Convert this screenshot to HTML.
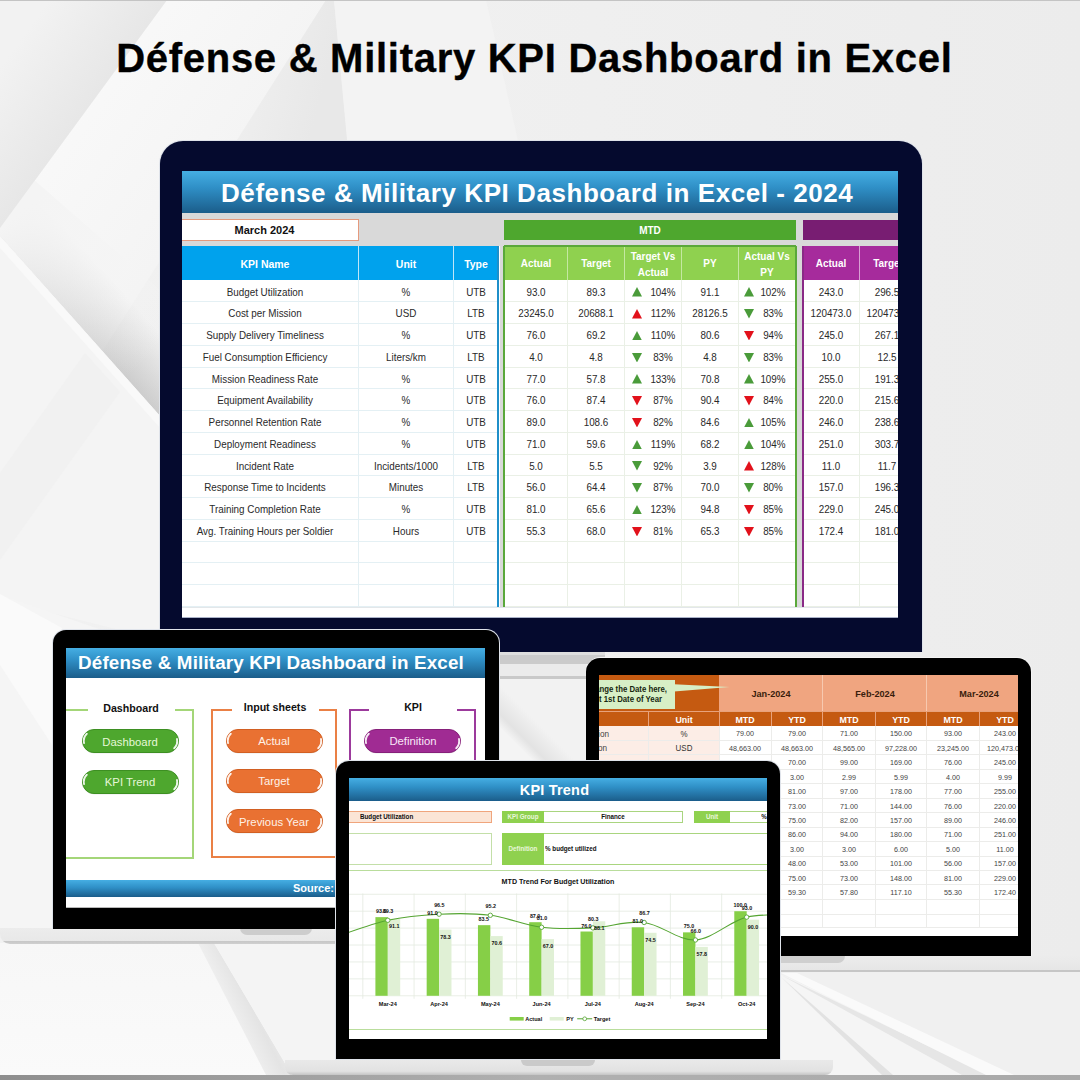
<!DOCTYPE html>
<html lang="en"><head><meta charset="utf-8">
<title>Défense &amp; Military KPI Dashboard in Excel</title>
<style>
html,body{margin:0;padding:0;}
body{width:1080px;height:1080px;position:relative;overflow:hidden;background:#eeeeee;font-family:"Liberation Sans",sans-serif;}
div{position:absolute;box-sizing:border-box;}
.t{white-space:nowrap;overflow:visible;}
svg{position:absolute;left:0;top:0;}
.scr{overflow:hidden;background:#fff;}
</style></head><body>

<svg width="1080" height="1080" viewBox="0 0 1080 1080">
<defs>
<linearGradient id="bg0" x1="0" y1="0" x2="1" y2="0"><stop offset="0" stop-color="#f1f1f1"/><stop offset="0.4" stop-color="#f0f0f0"/><stop offset="1" stop-color="#ececec"/></linearGradient>
<linearGradient id="g1" gradientUnits="userSpaceOnUse" x1="20" y1="40" x2="110" y2="105"><stop offset="0" stop-color="#f2f2f2"/><stop offset="1" stop-color="#e5e5e5"/></linearGradient>
<linearGradient id="g2" gradientUnits="userSpaceOnUse" x1="60" y1="100" x2="230" y2="220"><stop offset="0" stop-color="#f9f9f9"/><stop offset="1" stop-color="#f3f3f3"/></linearGradient>
<linearGradient id="g3" gradientUnits="userSpaceOnUse" x1="80" y1="326" x2="121" y2="289.5"><stop offset="0" stop-color="#000" stop-opacity="0.15"/><stop offset="0.5" stop-color="#000" stop-opacity="0.075"/><stop offset="1" stop-color="#000" stop-opacity="0"/></linearGradient>
<linearGradient id="g3b" gradientUnits="userSpaceOnUse" x1="0" y1="230" x2="130" y2="375"><stop offset="0" stop-color="#f4f4f4" stop-opacity="1"/><stop offset="1" stop-color="#f4f4f4" stop-opacity="0"/></linearGradient>
<linearGradient id="g4" x1="0" y1="0" x2="0" y2="1"><stop offset="0" stop-color="#f7f7f7"/><stop offset="1" stop-color="#fafafa"/></linearGradient>
<linearGradient id="g6" gradientUnits="userSpaceOnUse" x1="330" y1="60" x2="250" y2="40"><stop offset="0" stop-color="#e8e8e8"/><stop offset="1" stop-color="#efefef"/></linearGradient>
<linearGradient id="g7" gradientUnits="userSpaceOnUse" x1="210" y1="1000" x2="260" y2="975"><stop offset="0" stop-color="#f6f6f6"/><stop offset="0.6" stop-color="#e4e4e4"/><stop offset="1" stop-color="#f1f1f1"/></linearGradient>
<linearGradient id="g8" gradientUnits="userSpaceOnUse" x1="900" y1="1020" x2="890" y2="1042"><stop offset="0" stop-color="#f8f8f8"/><stop offset="0.6" stop-color="#f4f4f4"/><stop offset="1" stop-color="#dcdcdc"/></linearGradient>
</defs>
<rect width="1080" height="1080" fill="url(#bg0)"/>
<!-- light diagonal band -->
<polygon points="167,0 326,0 0,512 0,228" fill="url(#g2)"/>
<!-- grey triangle right of the band -->
<polygon points="326,0 334,0 348,145 234,145" fill="url(#g6)"/>
<!-- lighter triangle -->
<polygon points="334,0 486,0 520,150 348,150" fill="#f3f3f3"/>
<!-- grey ribbon crossing left -->
<polygon points="0,150 160,290 160,416 0,236" fill="url(#g3)"/>
<polygon points="0,150 160,290 160,416 0,236" fill="url(#g3b)"/>
<!-- top-left grey wedge -->
<polygon points="0,0 167,0 0,228" fill="url(#g1)"/>
<!-- area under ribbon -->
<polygon points="0,236 160,416 160,640 0,600" fill="#f4f4f4"/>
<polygon points="0,473 85,353 120,392 0,560" fill="#f1f1f1"/>
<polygon points="0,236 160,416 160,428 0,248" fill="#f9f9f9"/>
<polygon points="0,595 160,650 160,935 0,935" fill="#f5f5f5"/>
<polygon points="0,594 62,628 52,745 0,665" fill="#fafafa"/>
<!-- bottom region -->
<polygon points="0,943 780,943 780,1075 0,1075" fill="url(#g4)"/>
<polygon points="198,943 214,943 292,1075 266,1075" fill="url(#g7)"/>
<polygon points="214,943 340,943 340,1075 292,1075" fill="#f4f4f4"/>
<!-- bottom right rays -->
<polygon points="780,972 1080,972 1080,1075 780,1075" fill="#f0f0f0"/>
<polygon points="780,974 1000,1075 780,1075" fill="#f5f5f5"/>
<polygon points="781,975 988,1075 962,1075" fill="#e6e6e6"/>
<polygon points="781,973 797,973 1014,1075 986,1075" fill="#fafafa"/>
<polygon points="781,977 893,1075 882,1075" fill="#e2e2e2"/>
</svg>

<div style="left:0.00px;top:0.00px;width:1080.00px;height:1.20px;background:#c4c4c4;"></div>
<div class="t" id="title" style="left:34.40px;top:34.00px;width:1000.00px;height:48.00px;line-height:48.00px;font-size:40px;color:#000;text-align:center;font-weight:700;letter-spacing:0.72px;-webkit-text-stroke:0.35px #000;">Défense &amp; Military KPI Dashboard in Excel</div>
<div style="left:158.50px;top:140.00px;width:764.00px;height:512.00px;background:#dfe3ea;border-radius:24px 24px 0 0;"></div>
<div style="left:159.50px;top:141.00px;width:762.00px;height:511.00px;background:#050a2e;border-radius:23px 23px 0 0;"></div>
<div style="left:440.00px;top:651.50px;width:165.00px;height:4.00px;background:#dedede;"></div>
<div style="left:440.00px;top:655.00px;width:165.00px;height:8.60px;background:#cbcbcb;"></div>
<div style="left:440.00px;top:663.60px;width:146.00px;height:12.00px;background:#ebebeb;"></div>
<div style="left:440.00px;top:675.60px;width:146.00px;height:3.20px;background:#c9c9c9;"></div>
<div style="left:499.00px;top:678.80px;width:88.00px;height:82.00px;background:linear-gradient(225deg,#f2f2f2 0%,#f2f2f2 55%,#e3e3e3 72%,#f4f4f4 80%,#f4f4f4 100%);"></div>
<div class="scr" style="left:182.00px;top:170.50px;width:716.00px;height:447.50px;"><div style="left:0.00px;top:0.00px;width:716.00px;height:42.00px;background:linear-gradient(#45aee3 0%,#2f8fc6 40%,#1b5d8a 100%);"></div><div class="t" id="mh" style="left:-4.80px;top:7.90px;width:720.00px;height:31.20px;line-height:31.20px;font-size:26px;color:#fff;text-align:center;font-weight:700;letter-spacing:0.56px;">Défense &amp; Military KPI Dashboard in Excel - 2024</div><div style="left:0.00px;top:42.00px;width:716.00px;height:33.50px;background:#d9d9d9;"></div><div style="left:0.00px;top:48.00px;width:176.50px;height:22.50px;background:#fff;border:1px solid #e59a7d;border-left:none;"></div><div class="t" style="left:-17.50px;top:53.40px;width:200.00px;height:13.20px;line-height:13.20px;font-size:11px;color:#111;text-align:center;font-weight:700;">March 2024</div><div style="left:322.00px;top:49.00px;width:292.00px;height:20.50px;background:#4ea72e;"></div><div class="t" style="left:368.00px;top:53.00px;width:200.00px;height:12.60px;line-height:12.60px;font-size:10.5px;color:#fff;text-align:center;font-weight:700;transform:scaleX(0.95);transform-origin:50% 50%;">MTD</div><div style="left:620.50px;top:49.00px;width:120.00px;height:20.50px;background:#781d72;"></div><div style="left:0.00px;top:75.80px;width:316.00px;height:33.70px;background:#00a2ed;"></div><div class="t" style="left:-17.50px;top:87.48px;width:200.00px;height:12.84px;line-height:12.84px;font-size:10.7px;color:#fff;text-align:center;font-weight:700;transform:scaleX(0.98);transform-origin:50% 50%;">KPI Name</div><div class="t" style="left:124.00px;top:87.48px;width:200.00px;height:12.84px;line-height:12.84px;font-size:10.7px;color:#fff;text-align:center;font-weight:700;transform:scaleX(0.98);transform-origin:50% 50%;">Unit</div><div class="t" style="left:193.50px;top:87.48px;width:200.00px;height:12.84px;line-height:12.84px;font-size:10.7px;color:#fff;text-align:center;font-weight:700;transform:scaleX(0.98);transform-origin:50% 50%;">Type</div><div style="left:176.00px;top:75.80px;width:1.00px;height:33.70px;background:#bfe6f9;"></div><div style="left:270.80px;top:75.80px;width:1.00px;height:33.70px;background:#bfe6f9;"></div><div style="left:322.00px;top:75.80px;width:292.00px;height:33.70px;background:#8fd14f;"></div><div class="t" style="left:253.75px;top:86.70px;width:200.00px;height:12.60px;line-height:12.60px;font-size:10.5px;color:#fff;text-align:center;font-weight:700;transform:scaleX(0.95);transform-origin:50% 50%;">Actual</div><div class="t" style="left:314.00px;top:86.70px;width:200.00px;height:12.60px;line-height:12.60px;font-size:10.5px;color:#fff;text-align:center;font-weight:700;transform:scaleX(0.95);transform-origin:50% 50%;">Target</div><div class="t" style="left:371.10px;top:79.20px;width:200.00px;height:12.60px;line-height:12.60px;font-size:10.5px;color:#fff;text-align:center;font-weight:700;transform:scaleX(0.95);transform-origin:50% 50%;">Target Vs</div><div class="t" style="left:371.10px;top:95.20px;width:200.00px;height:12.60px;line-height:12.60px;font-size:10.5px;color:#fff;text-align:center;font-weight:700;transform:scaleX(0.95);transform-origin:50% 50%;">Actual</div><div class="t" style="left:428.20px;top:86.70px;width:200.00px;height:12.60px;line-height:12.60px;font-size:10.5px;color:#fff;text-align:center;font-weight:700;transform:scaleX(0.95);transform-origin:50% 50%;">PY</div><div class="t" style="left:485.35px;top:79.20px;width:200.00px;height:12.60px;line-height:12.60px;font-size:10.5px;color:#fff;text-align:center;font-weight:700;transform:scaleX(0.95);transform-origin:50% 50%;">Actual Vs</div><div class="t" style="left:485.35px;top:95.20px;width:200.00px;height:12.60px;line-height:12.60px;font-size:10.5px;color:#fff;text-align:center;font-weight:700;transform:scaleX(0.95);transform-origin:50% 50%;">PY</div><div style="left:385.00px;top:75.80px;width:1.00px;height:33.70px;background:#c5e8a2;"></div><div style="left:442.00px;top:75.80px;width:1.00px;height:33.70px;background:#c5e8a2;"></div><div style="left:499.20px;top:75.80px;width:1.00px;height:33.70px;background:#c5e8a2;"></div><div style="left:556.20px;top:75.80px;width:1.00px;height:33.70px;background:#c5e8a2;"></div><div style="left:620.50px;top:75.80px;width:120.00px;height:33.70px;background:#a62b9c;"></div><div class="t" style="left:548.50px;top:86.70px;width:200.00px;height:12.60px;line-height:12.60px;font-size:10.5px;color:#fff;text-align:center;font-weight:700;transform:scaleX(0.95);transform-origin:50% 50%;">Actual</div><div class="t" style="left:605.50px;top:86.70px;width:200.00px;height:12.60px;line-height:12.60px;font-size:10.5px;color:#fff;text-align:center;font-weight:700;transform:scaleX(0.95);transform-origin:50% 50%;">Target</div><div style="left:676.50px;top:75.80px;width:1.00px;height:33.70px;background:#d9a0d4;"></div><div style="left:0.00px;top:130.75px;width:316.00px;height:1.00px;background:#e4f0f4;"></div><div style="left:322.00px;top:130.75px;width:292.00px;height:1.00px;background:#eaf0e6;"></div><div style="left:620.50px;top:130.75px;width:120.00px;height:1.00px;background:#eaf0e6;"></div><div style="left:0.00px;top:152.50px;width:316.00px;height:1.00px;background:#e4f0f4;"></div><div style="left:322.00px;top:152.50px;width:292.00px;height:1.00px;background:#eaf0e6;"></div><div style="left:620.50px;top:152.50px;width:120.00px;height:1.00px;background:#eaf0e6;"></div><div style="left:0.00px;top:174.25px;width:316.00px;height:1.00px;background:#e4f0f4;"></div><div style="left:322.00px;top:174.25px;width:292.00px;height:1.00px;background:#eaf0e6;"></div><div style="left:620.50px;top:174.25px;width:120.00px;height:1.00px;background:#eaf0e6;"></div><div style="left:0.00px;top:196.00px;width:316.00px;height:1.00px;background:#e4f0f4;"></div><div style="left:322.00px;top:196.00px;width:292.00px;height:1.00px;background:#eaf0e6;"></div><div style="left:620.50px;top:196.00px;width:120.00px;height:1.00px;background:#eaf0e6;"></div><div style="left:0.00px;top:217.75px;width:316.00px;height:1.00px;background:#e4f0f4;"></div><div style="left:322.00px;top:217.75px;width:292.00px;height:1.00px;background:#eaf0e6;"></div><div style="left:620.50px;top:217.75px;width:120.00px;height:1.00px;background:#eaf0e6;"></div><div style="left:0.00px;top:239.50px;width:316.00px;height:1.00px;background:#e4f0f4;"></div><div style="left:322.00px;top:239.50px;width:292.00px;height:1.00px;background:#eaf0e6;"></div><div style="left:620.50px;top:239.50px;width:120.00px;height:1.00px;background:#eaf0e6;"></div><div style="left:0.00px;top:261.25px;width:316.00px;height:1.00px;background:#e4f0f4;"></div><div style="left:322.00px;top:261.25px;width:292.00px;height:1.00px;background:#eaf0e6;"></div><div style="left:620.50px;top:261.25px;width:120.00px;height:1.00px;background:#eaf0e6;"></div><div style="left:0.00px;top:283.00px;width:316.00px;height:1.00px;background:#e4f0f4;"></div><div style="left:322.00px;top:283.00px;width:292.00px;height:1.00px;background:#eaf0e6;"></div><div style="left:620.50px;top:283.00px;width:120.00px;height:1.00px;background:#eaf0e6;"></div><div style="left:0.00px;top:304.75px;width:316.00px;height:1.00px;background:#e4f0f4;"></div><div style="left:322.00px;top:304.75px;width:292.00px;height:1.00px;background:#eaf0e6;"></div><div style="left:620.50px;top:304.75px;width:120.00px;height:1.00px;background:#eaf0e6;"></div><div style="left:0.00px;top:326.50px;width:316.00px;height:1.00px;background:#e4f0f4;"></div><div style="left:322.00px;top:326.50px;width:292.00px;height:1.00px;background:#eaf0e6;"></div><div style="left:620.50px;top:326.50px;width:120.00px;height:1.00px;background:#eaf0e6;"></div><div style="left:0.00px;top:348.25px;width:316.00px;height:1.00px;background:#e4f0f4;"></div><div style="left:322.00px;top:348.25px;width:292.00px;height:1.00px;background:#eaf0e6;"></div><div style="left:620.50px;top:348.25px;width:120.00px;height:1.00px;background:#eaf0e6;"></div><div style="left:0.00px;top:370.00px;width:316.00px;height:1.00px;background:#e4f0f4;"></div><div style="left:322.00px;top:370.00px;width:292.00px;height:1.00px;background:#eaf0e6;"></div><div style="left:620.50px;top:370.00px;width:120.00px;height:1.00px;background:#eaf0e6;"></div><div style="left:0.00px;top:391.75px;width:316.00px;height:1.00px;background:#e4f0f4;"></div><div style="left:322.00px;top:391.75px;width:292.00px;height:1.00px;background:#eaf0e6;"></div><div style="left:620.50px;top:391.75px;width:120.00px;height:1.00px;background:#eaf0e6;"></div><div style="left:0.00px;top:413.50px;width:316.00px;height:1.00px;background:#e4f0f4;"></div><div style="left:322.00px;top:413.50px;width:292.00px;height:1.00px;background:#eaf0e6;"></div><div style="left:620.50px;top:413.50px;width:120.00px;height:1.00px;background:#eaf0e6;"></div><div style="left:0.00px;top:435.25px;width:316.00px;height:1.00px;background:#e4f0f4;"></div><div style="left:322.00px;top:435.25px;width:292.00px;height:1.00px;background:#eaf0e6;"></div><div style="left:620.50px;top:435.25px;width:120.00px;height:1.00px;background:#eaf0e6;"></div><div style="left:176.00px;top:109.50px;width:1.00px;height:327.00px;background:#e4f0f4;"></div><div style="left:270.80px;top:109.50px;width:1.00px;height:327.00px;background:#e4f0f4;"></div><div style="left:385.00px;top:109.50px;width:1.00px;height:327.00px;background:#eaf0e6;"></div><div style="left:442.00px;top:109.50px;width:1.00px;height:327.00px;background:#eaf0e6;"></div><div style="left:499.20px;top:109.50px;width:1.00px;height:327.00px;background:#eaf0e6;"></div><div style="left:556.20px;top:109.50px;width:1.00px;height:327.00px;background:#eaf0e6;"></div><div style="left:676.50px;top:109.50px;width:1.00px;height:327.00px;background:#eaf0e6;"></div><div style="left:317.50px;top:75.80px;width:4.00px;height:360.70px;background:#d9d9d9;"></div><div style="left:615.00px;top:75.80px;width:5.50px;height:360.70px;background:#d9d9d9;"></div><div style="left:315.20px;top:75.80px;width:2.20px;height:360.70px;background:#1f8fc9;"></div><div style="left:320.80px;top:75.80px;width:2.20px;height:360.70px;background:#5aa83a;"></div><div style="left:612.80px;top:75.80px;width:2.20px;height:360.70px;background:#5aa83a;"></div><div style="left:619.60px;top:75.80px;width:2.00px;height:360.70px;background:#8a2a86;"></div><div style="left:322.00px;top:74.80px;width:292.00px;height:1.50px;background:#5aa83a;"></div><div style="left:0.00px;top:436.50px;width:716.00px;height:1.00px;background:#e3e7ea;"></div><div style="left:0.00px;top:446.00px;width:716.00px;height:1.50px;background:#aab2c8;"></div><div class="t" style="left:-17.50px;top:115.21px;width:200.00px;height:12.72px;line-height:12.72px;font-size:10.6px;color:#2a2a2a;text-align:center;transform:scaleX(0.93);transform-origin:50% 50%;">Budget Utilization</div><div class="t" style="left:124.00px;top:115.21px;width:200.00px;height:12.72px;line-height:12.72px;font-size:10.6px;color:#2a2a2a;text-align:center;transform:scaleX(0.93);transform-origin:50% 50%;">%</div><div class="t" style="left:193.50px;top:115.21px;width:200.00px;height:12.72px;line-height:12.72px;font-size:10.6px;color:#2a2a2a;text-align:center;transform:scaleX(0.93);transform-origin:50% 50%;">UTB</div><div class="t" style="left:253.75px;top:115.21px;width:200.00px;height:12.72px;line-height:12.72px;font-size:10.6px;color:#2a2a2a;text-align:center;transform:scaleX(0.93);transform-origin:50% 50%;">93.0</div><div class="t" style="left:314.00px;top:115.21px;width:200.00px;height:12.72px;line-height:12.72px;font-size:10.6px;color:#2a2a2a;text-align:center;transform:scaleX(0.93);transform-origin:50% 50%;">89.3</div><svg style="left:450.00px;top:116.82px" width="10" height="9.5" viewBox="0 0 10 9.5"><polygon points="0,9.5 5,0 10,9.5" fill="#4a9b3a"/></svg><div class="t" style="left:381.00px;top:115.21px;width:200.00px;height:12.72px;line-height:12.72px;font-size:10.6px;color:#2a2a2a;text-align:center;transform:scaleX(0.93);transform-origin:50% 50%;">104%</div><div class="t" style="left:428.20px;top:115.21px;width:200.00px;height:12.72px;line-height:12.72px;font-size:10.6px;color:#2a2a2a;text-align:center;transform:scaleX(0.93);transform-origin:50% 50%;">91.1</div><svg style="left:562.00px;top:116.82px" width="10" height="9.5" viewBox="0 0 10 9.5"><polygon points="0,9.5 5,0 10,9.5" fill="#4a9b3a"/></svg><div class="t" style="left:491.00px;top:115.21px;width:200.00px;height:12.72px;line-height:12.72px;font-size:10.6px;color:#2a2a2a;text-align:center;transform:scaleX(0.93);transform-origin:50% 50%;">102%</div><div class="t" style="left:548.50px;top:115.21px;width:200.00px;height:12.72px;line-height:12.72px;font-size:10.6px;color:#2a2a2a;text-align:center;transform:scaleX(0.93);transform-origin:50% 50%;">243.0</div><div class="t" style="left:605.00px;top:115.21px;width:200.00px;height:12.72px;line-height:12.72px;font-size:10.6px;color:#2a2a2a;text-align:center;transform:scaleX(0.93);transform-origin:50% 50%;">296.5</div><div class="t" style="left:-17.50px;top:136.96px;width:200.00px;height:12.72px;line-height:12.72px;font-size:10.6px;color:#2a2a2a;text-align:center;transform:scaleX(0.93);transform-origin:50% 50%;">Cost per Mission</div><div class="t" style="left:124.00px;top:136.96px;width:200.00px;height:12.72px;line-height:12.72px;font-size:10.6px;color:#2a2a2a;text-align:center;transform:scaleX(0.93);transform-origin:50% 50%;">USD</div><div class="t" style="left:193.50px;top:136.96px;width:200.00px;height:12.72px;line-height:12.72px;font-size:10.6px;color:#2a2a2a;text-align:center;transform:scaleX(0.93);transform-origin:50% 50%;">LTB</div><div class="t" style="left:253.75px;top:136.96px;width:200.00px;height:12.72px;line-height:12.72px;font-size:10.6px;color:#2a2a2a;text-align:center;transform:scaleX(0.93);transform-origin:50% 50%;">23245.0</div><div class="t" style="left:314.00px;top:136.96px;width:200.00px;height:12.72px;line-height:12.72px;font-size:10.6px;color:#2a2a2a;text-align:center;transform:scaleX(0.93);transform-origin:50% 50%;">20688.1</div><svg style="left:450.00px;top:138.57px" width="10" height="9.5" viewBox="0 0 10 9.5"><polygon points="0,9.5 5,0 10,9.5" fill="#e2111b"/></svg><div class="t" style="left:381.00px;top:136.96px;width:200.00px;height:12.72px;line-height:12.72px;font-size:10.6px;color:#2a2a2a;text-align:center;transform:scaleX(0.93);transform-origin:50% 50%;">112%</div><div class="t" style="left:428.20px;top:136.96px;width:200.00px;height:12.72px;line-height:12.72px;font-size:10.6px;color:#2a2a2a;text-align:center;transform:scaleX(0.93);transform-origin:50% 50%;">28126.5</div><svg style="left:562.00px;top:138.57px" width="10" height="9.5" viewBox="0 0 10 9.5"><polygon points="0,0 10,0 5,9.5" fill="#4a9b3a"/></svg><div class="t" style="left:491.00px;top:136.96px;width:200.00px;height:12.72px;line-height:12.72px;font-size:10.6px;color:#2a2a2a;text-align:center;transform:scaleX(0.93);transform-origin:50% 50%;">83%</div><div class="t" style="left:548.50px;top:136.96px;width:200.00px;height:12.72px;line-height:12.72px;font-size:10.6px;color:#2a2a2a;text-align:center;transform:scaleX(0.93);transform-origin:50% 50%;">120473.0</div><div class="t" style="left:605.00px;top:136.96px;width:200.00px;height:12.72px;line-height:12.72px;font-size:10.6px;color:#2a2a2a;text-align:center;transform:scaleX(0.93);transform-origin:50% 50%;">120473.0</div><div class="t" style="left:-17.50px;top:158.71px;width:200.00px;height:12.72px;line-height:12.72px;font-size:10.6px;color:#2a2a2a;text-align:center;transform:scaleX(0.93);transform-origin:50% 50%;">Supply Delivery Timeliness</div><div class="t" style="left:124.00px;top:158.71px;width:200.00px;height:12.72px;line-height:12.72px;font-size:10.6px;color:#2a2a2a;text-align:center;transform:scaleX(0.93);transform-origin:50% 50%;">%</div><div class="t" style="left:193.50px;top:158.71px;width:200.00px;height:12.72px;line-height:12.72px;font-size:10.6px;color:#2a2a2a;text-align:center;transform:scaleX(0.93);transform-origin:50% 50%;">UTB</div><div class="t" style="left:253.75px;top:158.71px;width:200.00px;height:12.72px;line-height:12.72px;font-size:10.6px;color:#2a2a2a;text-align:center;transform:scaleX(0.93);transform-origin:50% 50%;">76.0</div><div class="t" style="left:314.00px;top:158.71px;width:200.00px;height:12.72px;line-height:12.72px;font-size:10.6px;color:#2a2a2a;text-align:center;transform:scaleX(0.93);transform-origin:50% 50%;">69.2</div><svg style="left:450.00px;top:160.32px" width="10" height="9.5" viewBox="0 0 10 9.5"><polygon points="0,9.5 5,0 10,9.5" fill="#4a9b3a"/></svg><div class="t" style="left:381.00px;top:158.71px;width:200.00px;height:12.72px;line-height:12.72px;font-size:10.6px;color:#2a2a2a;text-align:center;transform:scaleX(0.93);transform-origin:50% 50%;">110%</div><div class="t" style="left:428.20px;top:158.71px;width:200.00px;height:12.72px;line-height:12.72px;font-size:10.6px;color:#2a2a2a;text-align:center;transform:scaleX(0.93);transform-origin:50% 50%;">80.6</div><svg style="left:562.00px;top:160.32px" width="10" height="9.5" viewBox="0 0 10 9.5"><polygon points="0,0 10,0 5,9.5" fill="#e2111b"/></svg><div class="t" style="left:491.00px;top:158.71px;width:200.00px;height:12.72px;line-height:12.72px;font-size:10.6px;color:#2a2a2a;text-align:center;transform:scaleX(0.93);transform-origin:50% 50%;">94%</div><div class="t" style="left:548.50px;top:158.71px;width:200.00px;height:12.72px;line-height:12.72px;font-size:10.6px;color:#2a2a2a;text-align:center;transform:scaleX(0.93);transform-origin:50% 50%;">245.0</div><div class="t" style="left:605.00px;top:158.71px;width:200.00px;height:12.72px;line-height:12.72px;font-size:10.6px;color:#2a2a2a;text-align:center;transform:scaleX(0.93);transform-origin:50% 50%;">267.1</div><div class="t" style="left:-17.50px;top:180.46px;width:200.00px;height:12.72px;line-height:12.72px;font-size:10.6px;color:#2a2a2a;text-align:center;transform:scaleX(0.93);transform-origin:50% 50%;">Fuel Consumption Efficiency</div><div class="t" style="left:124.00px;top:180.46px;width:200.00px;height:12.72px;line-height:12.72px;font-size:10.6px;color:#2a2a2a;text-align:center;transform:scaleX(0.93);transform-origin:50% 50%;">Liters/km</div><div class="t" style="left:193.50px;top:180.46px;width:200.00px;height:12.72px;line-height:12.72px;font-size:10.6px;color:#2a2a2a;text-align:center;transform:scaleX(0.93);transform-origin:50% 50%;">LTB</div><div class="t" style="left:253.75px;top:180.46px;width:200.00px;height:12.72px;line-height:12.72px;font-size:10.6px;color:#2a2a2a;text-align:center;transform:scaleX(0.93);transform-origin:50% 50%;">4.0</div><div class="t" style="left:314.00px;top:180.46px;width:200.00px;height:12.72px;line-height:12.72px;font-size:10.6px;color:#2a2a2a;text-align:center;transform:scaleX(0.93);transform-origin:50% 50%;">4.8</div><svg style="left:450.00px;top:182.07px" width="10" height="9.5" viewBox="0 0 10 9.5"><polygon points="0,0 10,0 5,9.5" fill="#4a9b3a"/></svg><div class="t" style="left:381.00px;top:180.46px;width:200.00px;height:12.72px;line-height:12.72px;font-size:10.6px;color:#2a2a2a;text-align:center;transform:scaleX(0.93);transform-origin:50% 50%;">83%</div><div class="t" style="left:428.20px;top:180.46px;width:200.00px;height:12.72px;line-height:12.72px;font-size:10.6px;color:#2a2a2a;text-align:center;transform:scaleX(0.93);transform-origin:50% 50%;">4.8</div><svg style="left:562.00px;top:182.07px" width="10" height="9.5" viewBox="0 0 10 9.5"><polygon points="0,0 10,0 5,9.5" fill="#4a9b3a"/></svg><div class="t" style="left:491.00px;top:180.46px;width:200.00px;height:12.72px;line-height:12.72px;font-size:10.6px;color:#2a2a2a;text-align:center;transform:scaleX(0.93);transform-origin:50% 50%;">83%</div><div class="t" style="left:548.50px;top:180.46px;width:200.00px;height:12.72px;line-height:12.72px;font-size:10.6px;color:#2a2a2a;text-align:center;transform:scaleX(0.93);transform-origin:50% 50%;">10.0</div><div class="t" style="left:605.00px;top:180.46px;width:200.00px;height:12.72px;line-height:12.72px;font-size:10.6px;color:#2a2a2a;text-align:center;transform:scaleX(0.93);transform-origin:50% 50%;">12.5</div><div class="t" style="left:-17.50px;top:202.21px;width:200.00px;height:12.72px;line-height:12.72px;font-size:10.6px;color:#2a2a2a;text-align:center;transform:scaleX(0.93);transform-origin:50% 50%;">Mission Readiness Rate</div><div class="t" style="left:124.00px;top:202.21px;width:200.00px;height:12.72px;line-height:12.72px;font-size:10.6px;color:#2a2a2a;text-align:center;transform:scaleX(0.93);transform-origin:50% 50%;">%</div><div class="t" style="left:193.50px;top:202.21px;width:200.00px;height:12.72px;line-height:12.72px;font-size:10.6px;color:#2a2a2a;text-align:center;transform:scaleX(0.93);transform-origin:50% 50%;">UTB</div><div class="t" style="left:253.75px;top:202.21px;width:200.00px;height:12.72px;line-height:12.72px;font-size:10.6px;color:#2a2a2a;text-align:center;transform:scaleX(0.93);transform-origin:50% 50%;">77.0</div><div class="t" style="left:314.00px;top:202.21px;width:200.00px;height:12.72px;line-height:12.72px;font-size:10.6px;color:#2a2a2a;text-align:center;transform:scaleX(0.93);transform-origin:50% 50%;">57.8</div><svg style="left:450.00px;top:203.82px" width="10" height="9.5" viewBox="0 0 10 9.5"><polygon points="0,9.5 5,0 10,9.5" fill="#4a9b3a"/></svg><div class="t" style="left:381.00px;top:202.21px;width:200.00px;height:12.72px;line-height:12.72px;font-size:10.6px;color:#2a2a2a;text-align:center;transform:scaleX(0.93);transform-origin:50% 50%;">133%</div><div class="t" style="left:428.20px;top:202.21px;width:200.00px;height:12.72px;line-height:12.72px;font-size:10.6px;color:#2a2a2a;text-align:center;transform:scaleX(0.93);transform-origin:50% 50%;">70.8</div><svg style="left:562.00px;top:203.82px" width="10" height="9.5" viewBox="0 0 10 9.5"><polygon points="0,9.5 5,0 10,9.5" fill="#4a9b3a"/></svg><div class="t" style="left:491.00px;top:202.21px;width:200.00px;height:12.72px;line-height:12.72px;font-size:10.6px;color:#2a2a2a;text-align:center;transform:scaleX(0.93);transform-origin:50% 50%;">109%</div><div class="t" style="left:548.50px;top:202.21px;width:200.00px;height:12.72px;line-height:12.72px;font-size:10.6px;color:#2a2a2a;text-align:center;transform:scaleX(0.93);transform-origin:50% 50%;">255.0</div><div class="t" style="left:605.00px;top:202.21px;width:200.00px;height:12.72px;line-height:12.72px;font-size:10.6px;color:#2a2a2a;text-align:center;transform:scaleX(0.93);transform-origin:50% 50%;">191.3</div><div class="t" style="left:-17.50px;top:223.96px;width:200.00px;height:12.72px;line-height:12.72px;font-size:10.6px;color:#2a2a2a;text-align:center;transform:scaleX(0.93);transform-origin:50% 50%;">Equipment Availability</div><div class="t" style="left:124.00px;top:223.96px;width:200.00px;height:12.72px;line-height:12.72px;font-size:10.6px;color:#2a2a2a;text-align:center;transform:scaleX(0.93);transform-origin:50% 50%;">%</div><div class="t" style="left:193.50px;top:223.96px;width:200.00px;height:12.72px;line-height:12.72px;font-size:10.6px;color:#2a2a2a;text-align:center;transform:scaleX(0.93);transform-origin:50% 50%;">UTB</div><div class="t" style="left:253.75px;top:223.96px;width:200.00px;height:12.72px;line-height:12.72px;font-size:10.6px;color:#2a2a2a;text-align:center;transform:scaleX(0.93);transform-origin:50% 50%;">76.0</div><div class="t" style="left:314.00px;top:223.96px;width:200.00px;height:12.72px;line-height:12.72px;font-size:10.6px;color:#2a2a2a;text-align:center;transform:scaleX(0.93);transform-origin:50% 50%;">87.4</div><svg style="left:450.00px;top:225.57px" width="10" height="9.5" viewBox="0 0 10 9.5"><polygon points="0,0 10,0 5,9.5" fill="#e2111b"/></svg><div class="t" style="left:381.00px;top:223.96px;width:200.00px;height:12.72px;line-height:12.72px;font-size:10.6px;color:#2a2a2a;text-align:center;transform:scaleX(0.93);transform-origin:50% 50%;">87%</div><div class="t" style="left:428.20px;top:223.96px;width:200.00px;height:12.72px;line-height:12.72px;font-size:10.6px;color:#2a2a2a;text-align:center;transform:scaleX(0.93);transform-origin:50% 50%;">90.4</div><svg style="left:562.00px;top:225.57px" width="10" height="9.5" viewBox="0 0 10 9.5"><polygon points="0,0 10,0 5,9.5" fill="#e2111b"/></svg><div class="t" style="left:491.00px;top:223.96px;width:200.00px;height:12.72px;line-height:12.72px;font-size:10.6px;color:#2a2a2a;text-align:center;transform:scaleX(0.93);transform-origin:50% 50%;">84%</div><div class="t" style="left:548.50px;top:223.96px;width:200.00px;height:12.72px;line-height:12.72px;font-size:10.6px;color:#2a2a2a;text-align:center;transform:scaleX(0.93);transform-origin:50% 50%;">220.0</div><div class="t" style="left:605.00px;top:223.96px;width:200.00px;height:12.72px;line-height:12.72px;font-size:10.6px;color:#2a2a2a;text-align:center;transform:scaleX(0.93);transform-origin:50% 50%;">215.6</div><div class="t" style="left:-17.50px;top:245.71px;width:200.00px;height:12.72px;line-height:12.72px;font-size:10.6px;color:#2a2a2a;text-align:center;transform:scaleX(0.93);transform-origin:50% 50%;">Personnel Retention Rate</div><div class="t" style="left:124.00px;top:245.71px;width:200.00px;height:12.72px;line-height:12.72px;font-size:10.6px;color:#2a2a2a;text-align:center;transform:scaleX(0.93);transform-origin:50% 50%;">%</div><div class="t" style="left:193.50px;top:245.71px;width:200.00px;height:12.72px;line-height:12.72px;font-size:10.6px;color:#2a2a2a;text-align:center;transform:scaleX(0.93);transform-origin:50% 50%;">UTB</div><div class="t" style="left:253.75px;top:245.71px;width:200.00px;height:12.72px;line-height:12.72px;font-size:10.6px;color:#2a2a2a;text-align:center;transform:scaleX(0.93);transform-origin:50% 50%;">89.0</div><div class="t" style="left:314.00px;top:245.71px;width:200.00px;height:12.72px;line-height:12.72px;font-size:10.6px;color:#2a2a2a;text-align:center;transform:scaleX(0.93);transform-origin:50% 50%;">108.6</div><svg style="left:450.00px;top:247.32px" width="10" height="9.5" viewBox="0 0 10 9.5"><polygon points="0,0 10,0 5,9.5" fill="#e2111b"/></svg><div class="t" style="left:381.00px;top:245.71px;width:200.00px;height:12.72px;line-height:12.72px;font-size:10.6px;color:#2a2a2a;text-align:center;transform:scaleX(0.93);transform-origin:50% 50%;">82%</div><div class="t" style="left:428.20px;top:245.71px;width:200.00px;height:12.72px;line-height:12.72px;font-size:10.6px;color:#2a2a2a;text-align:center;transform:scaleX(0.93);transform-origin:50% 50%;">84.6</div><svg style="left:562.00px;top:247.32px" width="10" height="9.5" viewBox="0 0 10 9.5"><polygon points="0,9.5 5,0 10,9.5" fill="#4a9b3a"/></svg><div class="t" style="left:491.00px;top:245.71px;width:200.00px;height:12.72px;line-height:12.72px;font-size:10.6px;color:#2a2a2a;text-align:center;transform:scaleX(0.93);transform-origin:50% 50%;">105%</div><div class="t" style="left:548.50px;top:245.71px;width:200.00px;height:12.72px;line-height:12.72px;font-size:10.6px;color:#2a2a2a;text-align:center;transform:scaleX(0.93);transform-origin:50% 50%;">246.0</div><div class="t" style="left:605.00px;top:245.71px;width:200.00px;height:12.72px;line-height:12.72px;font-size:10.6px;color:#2a2a2a;text-align:center;transform:scaleX(0.93);transform-origin:50% 50%;">238.6</div><div class="t" style="left:-17.50px;top:267.46px;width:200.00px;height:12.72px;line-height:12.72px;font-size:10.6px;color:#2a2a2a;text-align:center;transform:scaleX(0.93);transform-origin:50% 50%;">Deployment Readiness</div><div class="t" style="left:124.00px;top:267.46px;width:200.00px;height:12.72px;line-height:12.72px;font-size:10.6px;color:#2a2a2a;text-align:center;transform:scaleX(0.93);transform-origin:50% 50%;">%</div><div class="t" style="left:193.50px;top:267.46px;width:200.00px;height:12.72px;line-height:12.72px;font-size:10.6px;color:#2a2a2a;text-align:center;transform:scaleX(0.93);transform-origin:50% 50%;">UTB</div><div class="t" style="left:253.75px;top:267.46px;width:200.00px;height:12.72px;line-height:12.72px;font-size:10.6px;color:#2a2a2a;text-align:center;transform:scaleX(0.93);transform-origin:50% 50%;">71.0</div><div class="t" style="left:314.00px;top:267.46px;width:200.00px;height:12.72px;line-height:12.72px;font-size:10.6px;color:#2a2a2a;text-align:center;transform:scaleX(0.93);transform-origin:50% 50%;">59.6</div><svg style="left:450.00px;top:269.07px" width="10" height="9.5" viewBox="0 0 10 9.5"><polygon points="0,9.5 5,0 10,9.5" fill="#4a9b3a"/></svg><div class="t" style="left:381.00px;top:267.46px;width:200.00px;height:12.72px;line-height:12.72px;font-size:10.6px;color:#2a2a2a;text-align:center;transform:scaleX(0.93);transform-origin:50% 50%;">119%</div><div class="t" style="left:428.20px;top:267.46px;width:200.00px;height:12.72px;line-height:12.72px;font-size:10.6px;color:#2a2a2a;text-align:center;transform:scaleX(0.93);transform-origin:50% 50%;">68.2</div><svg style="left:562.00px;top:269.07px" width="10" height="9.5" viewBox="0 0 10 9.5"><polygon points="0,9.5 5,0 10,9.5" fill="#4a9b3a"/></svg><div class="t" style="left:491.00px;top:267.46px;width:200.00px;height:12.72px;line-height:12.72px;font-size:10.6px;color:#2a2a2a;text-align:center;transform:scaleX(0.93);transform-origin:50% 50%;">104%</div><div class="t" style="left:548.50px;top:267.46px;width:200.00px;height:12.72px;line-height:12.72px;font-size:10.6px;color:#2a2a2a;text-align:center;transform:scaleX(0.93);transform-origin:50% 50%;">251.0</div><div class="t" style="left:605.00px;top:267.46px;width:200.00px;height:12.72px;line-height:12.72px;font-size:10.6px;color:#2a2a2a;text-align:center;transform:scaleX(0.93);transform-origin:50% 50%;">303.7</div><div class="t" style="left:-17.50px;top:289.21px;width:200.00px;height:12.72px;line-height:12.72px;font-size:10.6px;color:#2a2a2a;text-align:center;transform:scaleX(0.93);transform-origin:50% 50%;">Incident Rate</div><div class="t" style="left:124.00px;top:289.21px;width:200.00px;height:12.72px;line-height:12.72px;font-size:10.6px;color:#2a2a2a;text-align:center;transform:scaleX(0.93);transform-origin:50% 50%;">Incidents/1000</div><div class="t" style="left:193.50px;top:289.21px;width:200.00px;height:12.72px;line-height:12.72px;font-size:10.6px;color:#2a2a2a;text-align:center;transform:scaleX(0.93);transform-origin:50% 50%;">LTB</div><div class="t" style="left:253.75px;top:289.21px;width:200.00px;height:12.72px;line-height:12.72px;font-size:10.6px;color:#2a2a2a;text-align:center;transform:scaleX(0.93);transform-origin:50% 50%;">5.0</div><div class="t" style="left:314.00px;top:289.21px;width:200.00px;height:12.72px;line-height:12.72px;font-size:10.6px;color:#2a2a2a;text-align:center;transform:scaleX(0.93);transform-origin:50% 50%;">5.5</div><svg style="left:450.00px;top:290.82px" width="10" height="9.5" viewBox="0 0 10 9.5"><polygon points="0,0 10,0 5,9.5" fill="#4a9b3a"/></svg><div class="t" style="left:381.00px;top:289.21px;width:200.00px;height:12.72px;line-height:12.72px;font-size:10.6px;color:#2a2a2a;text-align:center;transform:scaleX(0.93);transform-origin:50% 50%;">92%</div><div class="t" style="left:428.20px;top:289.21px;width:200.00px;height:12.72px;line-height:12.72px;font-size:10.6px;color:#2a2a2a;text-align:center;transform:scaleX(0.93);transform-origin:50% 50%;">3.9</div><svg style="left:562.00px;top:290.82px" width="10" height="9.5" viewBox="0 0 10 9.5"><polygon points="0,9.5 5,0 10,9.5" fill="#e2111b"/></svg><div class="t" style="left:491.00px;top:289.21px;width:200.00px;height:12.72px;line-height:12.72px;font-size:10.6px;color:#2a2a2a;text-align:center;transform:scaleX(0.93);transform-origin:50% 50%;">128%</div><div class="t" style="left:548.50px;top:289.21px;width:200.00px;height:12.72px;line-height:12.72px;font-size:10.6px;color:#2a2a2a;text-align:center;transform:scaleX(0.93);transform-origin:50% 50%;">11.0</div><div class="t" style="left:605.00px;top:289.21px;width:200.00px;height:12.72px;line-height:12.72px;font-size:10.6px;color:#2a2a2a;text-align:center;transform:scaleX(0.93);transform-origin:50% 50%;">11.7</div><div class="t" style="left:-17.50px;top:310.96px;width:200.00px;height:12.72px;line-height:12.72px;font-size:10.6px;color:#2a2a2a;text-align:center;transform:scaleX(0.93);transform-origin:50% 50%;">Response Time to Incidents</div><div class="t" style="left:124.00px;top:310.96px;width:200.00px;height:12.72px;line-height:12.72px;font-size:10.6px;color:#2a2a2a;text-align:center;transform:scaleX(0.93);transform-origin:50% 50%;">Minutes</div><div class="t" style="left:193.50px;top:310.96px;width:200.00px;height:12.72px;line-height:12.72px;font-size:10.6px;color:#2a2a2a;text-align:center;transform:scaleX(0.93);transform-origin:50% 50%;">LTB</div><div class="t" style="left:253.75px;top:310.96px;width:200.00px;height:12.72px;line-height:12.72px;font-size:10.6px;color:#2a2a2a;text-align:center;transform:scaleX(0.93);transform-origin:50% 50%;">56.0</div><div class="t" style="left:314.00px;top:310.96px;width:200.00px;height:12.72px;line-height:12.72px;font-size:10.6px;color:#2a2a2a;text-align:center;transform:scaleX(0.93);transform-origin:50% 50%;">64.4</div><svg style="left:450.00px;top:312.57px" width="10" height="9.5" viewBox="0 0 10 9.5"><polygon points="0,0 10,0 5,9.5" fill="#4a9b3a"/></svg><div class="t" style="left:381.00px;top:310.96px;width:200.00px;height:12.72px;line-height:12.72px;font-size:10.6px;color:#2a2a2a;text-align:center;transform:scaleX(0.93);transform-origin:50% 50%;">87%</div><div class="t" style="left:428.20px;top:310.96px;width:200.00px;height:12.72px;line-height:12.72px;font-size:10.6px;color:#2a2a2a;text-align:center;transform:scaleX(0.93);transform-origin:50% 50%;">70.0</div><svg style="left:562.00px;top:312.57px" width="10" height="9.5" viewBox="0 0 10 9.5"><polygon points="0,0 10,0 5,9.5" fill="#4a9b3a"/></svg><div class="t" style="left:491.00px;top:310.96px;width:200.00px;height:12.72px;line-height:12.72px;font-size:10.6px;color:#2a2a2a;text-align:center;transform:scaleX(0.93);transform-origin:50% 50%;">80%</div><div class="t" style="left:548.50px;top:310.96px;width:200.00px;height:12.72px;line-height:12.72px;font-size:10.6px;color:#2a2a2a;text-align:center;transform:scaleX(0.93);transform-origin:50% 50%;">157.0</div><div class="t" style="left:605.00px;top:310.96px;width:200.00px;height:12.72px;line-height:12.72px;font-size:10.6px;color:#2a2a2a;text-align:center;transform:scaleX(0.93);transform-origin:50% 50%;">196.3</div><div class="t" style="left:-17.50px;top:332.71px;width:200.00px;height:12.72px;line-height:12.72px;font-size:10.6px;color:#2a2a2a;text-align:center;transform:scaleX(0.93);transform-origin:50% 50%;">Training Completion Rate</div><div class="t" style="left:124.00px;top:332.71px;width:200.00px;height:12.72px;line-height:12.72px;font-size:10.6px;color:#2a2a2a;text-align:center;transform:scaleX(0.93);transform-origin:50% 50%;">%</div><div class="t" style="left:193.50px;top:332.71px;width:200.00px;height:12.72px;line-height:12.72px;font-size:10.6px;color:#2a2a2a;text-align:center;transform:scaleX(0.93);transform-origin:50% 50%;">UTB</div><div class="t" style="left:253.75px;top:332.71px;width:200.00px;height:12.72px;line-height:12.72px;font-size:10.6px;color:#2a2a2a;text-align:center;transform:scaleX(0.93);transform-origin:50% 50%;">81.0</div><div class="t" style="left:314.00px;top:332.71px;width:200.00px;height:12.72px;line-height:12.72px;font-size:10.6px;color:#2a2a2a;text-align:center;transform:scaleX(0.93);transform-origin:50% 50%;">65.6</div><svg style="left:450.00px;top:334.32px" width="10" height="9.5" viewBox="0 0 10 9.5"><polygon points="0,9.5 5,0 10,9.5" fill="#4a9b3a"/></svg><div class="t" style="left:381.00px;top:332.71px;width:200.00px;height:12.72px;line-height:12.72px;font-size:10.6px;color:#2a2a2a;text-align:center;transform:scaleX(0.93);transform-origin:50% 50%;">123%</div><div class="t" style="left:428.20px;top:332.71px;width:200.00px;height:12.72px;line-height:12.72px;font-size:10.6px;color:#2a2a2a;text-align:center;transform:scaleX(0.93);transform-origin:50% 50%;">94.8</div><svg style="left:562.00px;top:334.32px" width="10" height="9.5" viewBox="0 0 10 9.5"><polygon points="0,0 10,0 5,9.5" fill="#e2111b"/></svg><div class="t" style="left:491.00px;top:332.71px;width:200.00px;height:12.72px;line-height:12.72px;font-size:10.6px;color:#2a2a2a;text-align:center;transform:scaleX(0.93);transform-origin:50% 50%;">85%</div><div class="t" style="left:548.50px;top:332.71px;width:200.00px;height:12.72px;line-height:12.72px;font-size:10.6px;color:#2a2a2a;text-align:center;transform:scaleX(0.93);transform-origin:50% 50%;">229.0</div><div class="t" style="left:605.00px;top:332.71px;width:200.00px;height:12.72px;line-height:12.72px;font-size:10.6px;color:#2a2a2a;text-align:center;transform:scaleX(0.93);transform-origin:50% 50%;">245.0</div><div class="t" style="left:-17.50px;top:354.47px;width:200.00px;height:12.72px;line-height:12.72px;font-size:10.6px;color:#2a2a2a;text-align:center;transform:scaleX(0.93);transform-origin:50% 50%;">Avg. Training Hours per Soldier</div><div class="t" style="left:124.00px;top:354.47px;width:200.00px;height:12.72px;line-height:12.72px;font-size:10.6px;color:#2a2a2a;text-align:center;transform:scaleX(0.93);transform-origin:50% 50%;">Hours</div><div class="t" style="left:193.50px;top:354.47px;width:200.00px;height:12.72px;line-height:12.72px;font-size:10.6px;color:#2a2a2a;text-align:center;transform:scaleX(0.93);transform-origin:50% 50%;">UTB</div><div class="t" style="left:253.75px;top:354.47px;width:200.00px;height:12.72px;line-height:12.72px;font-size:10.6px;color:#2a2a2a;text-align:center;transform:scaleX(0.93);transform-origin:50% 50%;">55.3</div><div class="t" style="left:314.00px;top:354.47px;width:200.00px;height:12.72px;line-height:12.72px;font-size:10.6px;color:#2a2a2a;text-align:center;transform:scaleX(0.93);transform-origin:50% 50%;">68.0</div><svg style="left:450.00px;top:356.08px" width="10" height="9.5" viewBox="0 0 10 9.5"><polygon points="0,0 10,0 5,9.5" fill="#e2111b"/></svg><div class="t" style="left:381.00px;top:354.47px;width:200.00px;height:12.72px;line-height:12.72px;font-size:10.6px;color:#2a2a2a;text-align:center;transform:scaleX(0.93);transform-origin:50% 50%;">81%</div><div class="t" style="left:428.20px;top:354.47px;width:200.00px;height:12.72px;line-height:12.72px;font-size:10.6px;color:#2a2a2a;text-align:center;transform:scaleX(0.93);transform-origin:50% 50%;">65.3</div><svg style="left:562.00px;top:356.08px" width="10" height="9.5" viewBox="0 0 10 9.5"><polygon points="0,0 10,0 5,9.5" fill="#e2111b"/></svg><div class="t" style="left:491.00px;top:354.47px;width:200.00px;height:12.72px;line-height:12.72px;font-size:10.6px;color:#2a2a2a;text-align:center;transform:scaleX(0.93);transform-origin:50% 50%;">85%</div><div class="t" style="left:548.50px;top:354.47px;width:200.00px;height:12.72px;line-height:12.72px;font-size:10.6px;color:#2a2a2a;text-align:center;transform:scaleX(0.93);transform-origin:50% 50%;">172.4</div><div class="t" style="left:605.00px;top:354.47px;width:200.00px;height:12.72px;line-height:12.72px;font-size:10.6px;color:#2a2a2a;text-align:center;transform:scaleX(0.93);transform-origin:50% 50%;">181.0</div></div>
<div style="left:586.00px;top:955.50px;width:494.00px;height:16.00px;background:linear-gradient(#ececec,#e6e6e6 90%,#c6c6c6 90%,#c6c6c6);"></div>
<div style="left:600.00px;top:955.50px;width:245.00px;height:7.00px;background:#cfcfcf;border-radius:0 0 7px 7px;"></div>
<div style="left:585.60px;top:656.80px;width:446.10px;height:299.20px;background:#f4f4f4;border-radius:14.5px 14.5px 0 0;"></div>
<div style="left:586.30px;top:657.50px;width:444.70px;height:298.50px;background:#000;border-radius:14px 14px 0 0;"></div>
<div class="scr" style="left:599.30px;top:675.00px;width:418.40px;height:261.30px;"><div style="left:0.00px;top:0.00px;width:120.00px;height:36.30px;background:#c55a11;"></div><div style="left:120.00px;top:0.00px;width:298.40px;height:36.30px;background:#f0a580;"></div><div style="left:223.20px;top:0.00px;width:1.00px;height:36.30px;background:#f7c9b0;"></div><div style="left:327.20px;top:0.00px;width:1.00px;height:36.30px;background:#f7c9b0;"></div><div class="t" style="left:71.90px;top:13.24px;width:200.00px;height:11.52px;line-height:11.52px;font-size:9.6px;color:#3a1d0c;text-align:center;font-weight:700;transform:scaleX(0.95);transform-origin:50% 50%;">Jan-2024</div><div class="t" style="left:175.70px;top:13.24px;width:200.00px;height:11.52px;line-height:11.52px;font-size:9.6px;color:#3a1d0c;text-align:center;font-weight:700;transform:scaleX(0.95);transform-origin:50% 50%;">Feb-2024</div><div class="t" style="left:279.70px;top:13.24px;width:200.00px;height:11.52px;line-height:11.52px;font-size:9.6px;color:#3a1d0c;text-align:center;font-weight:700;transform:scaleX(0.95);transform-origin:50% 50%;">Mar-2024</div><div style="left:-9.30px;top:5.00px;width:85.00px;height:29.00px;background:#d7efc6;"></div><svg style="left:75.20px;top:9.20px" width="56" height="8" viewBox="0 0 56 8"><polygon points="0,0.2 55.5,3 0,7.6" fill="#d7efc6"/></svg><div class="t" style="left:-132.30px;top:9.58px;width:200.00px;height:9.84px;line-height:9.84px;font-size:8.2px;color:#16260e;text-align:right;font-weight:700;transform:scaleX(0.95);transform-origin:100% 50%;">Change the Date here,</div><div class="t" style="left:-137.30px;top:19.58px;width:200.00px;height:9.84px;line-height:9.84px;font-size:8.2px;color:#16260e;text-align:right;font-weight:700;transform:scaleX(0.95);transform-origin:100% 50%;">Put 1st Date of Year</div><div style="left:0.00px;top:36.30px;width:418.40px;height:14.50px;background:#c55a11;border-top:1px solid #e8a27c;"></div><div style="left:49.00px;top:36.30px;width:1.00px;height:14.50px;background:#e8a27c;"></div><div style="left:119.50px;top:36.30px;width:1.00px;height:14.50px;background:#e8a27c;"></div><div style="left:171.40px;top:36.30px;width:1.00px;height:14.50px;background:#e8a27c;"></div><div style="left:223.20px;top:36.30px;width:1.00px;height:14.50px;background:#e8a27c;"></div><div style="left:275.50px;top:36.30px;width:1.00px;height:14.50px;background:#e8a27c;"></div><div style="left:327.20px;top:36.30px;width:1.00px;height:14.50px;background:#e8a27c;"></div><div style="left:379.50px;top:36.30px;width:1.00px;height:14.50px;background:#e8a27c;"></div><div class="t" style="left:-15.30px;top:39.62px;width:200.00px;height:11.16px;line-height:11.16px;font-size:9.3px;color:#fff;text-align:center;font-weight:700;transform:scaleX(0.95);transform-origin:50% 50%;">Unit</div><div class="t" style="left:45.95px;top:39.62px;width:200.00px;height:11.16px;line-height:11.16px;font-size:9.3px;color:#fff;text-align:center;font-weight:700;transform:scaleX(0.95);transform-origin:50% 50%;">MTD</div><div class="t" style="left:97.80px;top:39.62px;width:200.00px;height:11.16px;line-height:11.16px;font-size:9.3px;color:#fff;text-align:center;font-weight:700;transform:scaleX(0.95);transform-origin:50% 50%;">YTD</div><div class="t" style="left:149.85px;top:39.62px;width:200.00px;height:11.16px;line-height:11.16px;font-size:9.3px;color:#fff;text-align:center;font-weight:700;transform:scaleX(0.95);transform-origin:50% 50%;">MTD</div><div class="t" style="left:201.85px;top:39.62px;width:200.00px;height:11.16px;line-height:11.16px;font-size:9.3px;color:#fff;text-align:center;font-weight:700;transform:scaleX(0.95);transform-origin:50% 50%;">YTD</div><div class="t" style="left:253.85px;top:39.62px;width:200.00px;height:11.16px;line-height:11.16px;font-size:9.3px;color:#fff;text-align:center;font-weight:700;transform:scaleX(0.95);transform-origin:50% 50%;">MTD</div><div class="t" style="left:305.85px;top:39.62px;width:200.00px;height:11.16px;line-height:11.16px;font-size:9.3px;color:#fff;text-align:center;font-weight:700;transform:scaleX(0.95);transform-origin:50% 50%;">YTD</div><div style="left:0.00px;top:50.80px;width:120.00px;height:173.64px;background:#fcede6;"></div><div style="left:0.00px;top:64.77px;width:418.40px;height:1.00px;background:#ececea;"></div><div style="left:0.00px;top:79.24px;width:418.40px;height:1.00px;background:#ececea;"></div><div style="left:0.00px;top:93.71px;width:418.40px;height:1.00px;background:#ececea;"></div><div style="left:0.00px;top:108.18px;width:418.40px;height:1.00px;background:#ececea;"></div><div style="left:0.00px;top:122.65px;width:418.40px;height:1.00px;background:#ececea;"></div><div style="left:0.00px;top:137.12px;width:418.40px;height:1.00px;background:#ececea;"></div><div style="left:0.00px;top:151.59px;width:418.40px;height:1.00px;background:#ececea;"></div><div style="left:0.00px;top:166.06px;width:418.40px;height:1.00px;background:#ececea;"></div><div style="left:0.00px;top:180.53px;width:418.40px;height:1.00px;background:#ececea;"></div><div style="left:0.00px;top:195.00px;width:418.40px;height:1.00px;background:#ececea;"></div><div style="left:0.00px;top:209.47px;width:418.40px;height:1.00px;background:#ececea;"></div><div style="left:0.00px;top:223.94px;width:418.40px;height:1.00px;background:#ececea;"></div><div style="left:0.00px;top:238.50px;width:418.40px;height:1.00px;background:#ececea;"></div><div style="left:0.00px;top:252.00px;width:418.40px;height:1.00px;background:#ececea;"></div><div style="left:49.00px;top:50.80px;width:1.00px;height:201.20px;background:#ececea;"></div><div style="left:119.50px;top:50.80px;width:1.00px;height:201.20px;background:#ececea;"></div><div style="left:171.40px;top:50.80px;width:1.00px;height:201.20px;background:#ececea;"></div><div style="left:223.20px;top:50.80px;width:1.00px;height:201.20px;background:#ececea;"></div><div style="left:275.50px;top:50.80px;width:1.00px;height:201.20px;background:#ececea;"></div><div style="left:327.20px;top:50.80px;width:1.00px;height:201.20px;background:#ececea;"></div><div style="left:379.50px;top:50.80px;width:1.00px;height:201.20px;background:#ececea;"></div><div class="t" style="left:-190.70px;top:53.67px;width:200.00px;height:10.32px;line-height:10.32px;font-size:8.6px;color:#444;text-align:right;transform:scaleX(0.95);transform-origin:100% 50%;">Budget Utilization</div><div class="t" style="left:-15.30px;top:53.79px;width:200.00px;height:10.08px;line-height:10.08px;font-size:8.4px;color:#333;text-align:center;transform:scaleX(0.95);transform-origin:50% 50%;">%</div><div class="t" style="left:45.95px;top:54.15px;width:200.00px;height:9.36px;line-height:9.36px;font-size:7.8px;color:#444;text-align:center;transform:scaleX(0.92);transform-origin:50% 50%;">79.00</div><div class="t" style="left:97.80px;top:54.15px;width:200.00px;height:9.36px;line-height:9.36px;font-size:7.8px;color:#444;text-align:center;transform:scaleX(0.92);transform-origin:50% 50%;">79.00</div><div class="t" style="left:149.85px;top:54.15px;width:200.00px;height:9.36px;line-height:9.36px;font-size:7.8px;color:#444;text-align:center;transform:scaleX(0.92);transform-origin:50% 50%;">71.00</div><div class="t" style="left:201.85px;top:54.15px;width:200.00px;height:9.36px;line-height:9.36px;font-size:7.8px;color:#444;text-align:center;transform:scaleX(0.92);transform-origin:50% 50%;">150.00</div><div class="t" style="left:253.85px;top:54.15px;width:200.00px;height:9.36px;line-height:9.36px;font-size:7.8px;color:#444;text-align:center;transform:scaleX(0.92);transform-origin:50% 50%;">93.00</div><div class="t" style="left:305.85px;top:54.15px;width:200.00px;height:9.36px;line-height:9.36px;font-size:7.8px;color:#444;text-align:center;transform:scaleX(0.92);transform-origin:50% 50%;">243.00</div><div class="t" style="left:-191.90px;top:68.14px;width:200.00px;height:10.32px;line-height:10.32px;font-size:8.6px;color:#444;text-align:right;transform:scaleX(0.95);transform-origin:100% 50%;">Cost per Mission</div><div class="t" style="left:-15.30px;top:68.26px;width:200.00px;height:10.08px;line-height:10.08px;font-size:8.4px;color:#333;text-align:center;transform:scaleX(0.95);transform-origin:50% 50%;">USD</div><div class="t" style="left:45.95px;top:68.62px;width:200.00px;height:9.36px;line-height:9.36px;font-size:7.8px;color:#444;text-align:center;transform:scaleX(0.92);transform-origin:50% 50%;">48,663.00</div><div class="t" style="left:97.80px;top:68.62px;width:200.00px;height:9.36px;line-height:9.36px;font-size:7.8px;color:#444;text-align:center;transform:scaleX(0.92);transform-origin:50% 50%;">48,663.00</div><div class="t" style="left:149.85px;top:68.62px;width:200.00px;height:9.36px;line-height:9.36px;font-size:7.8px;color:#444;text-align:center;transform:scaleX(0.92);transform-origin:50% 50%;">48,565.00</div><div class="t" style="left:201.85px;top:68.62px;width:200.00px;height:9.36px;line-height:9.36px;font-size:7.8px;color:#444;text-align:center;transform:scaleX(0.92);transform-origin:50% 50%;">97,228.00</div><div class="t" style="left:253.85px;top:68.62px;width:200.00px;height:9.36px;line-height:9.36px;font-size:7.8px;color:#444;text-align:center;transform:scaleX(0.92);transform-origin:50% 50%;">23,245.00</div><div class="t" style="left:305.85px;top:68.62px;width:200.00px;height:9.36px;line-height:9.36px;font-size:7.8px;color:#444;text-align:center;transform:scaleX(0.92);transform-origin:50% 50%;">120,473.00</div><div class="t" style="left:-190.70px;top:82.61px;width:200.00px;height:10.32px;line-height:10.32px;font-size:8.6px;color:#444;text-align:right;transform:scaleX(0.95);transform-origin:100% 50%;">Supply Delivery Timeliness</div><div class="t" style="left:-15.30px;top:82.73px;width:200.00px;height:10.08px;line-height:10.08px;font-size:8.4px;color:#333;text-align:center;transform:scaleX(0.95);transform-origin:50% 50%;">%</div><div class="t" style="left:45.95px;top:83.09px;width:200.00px;height:9.36px;line-height:9.36px;font-size:7.8px;color:#444;text-align:center;transform:scaleX(0.92);transform-origin:50% 50%;">70.00</div><div class="t" style="left:97.80px;top:83.09px;width:200.00px;height:9.36px;line-height:9.36px;font-size:7.8px;color:#444;text-align:center;transform:scaleX(0.92);transform-origin:50% 50%;">70.00</div><div class="t" style="left:149.85px;top:83.09px;width:200.00px;height:9.36px;line-height:9.36px;font-size:7.8px;color:#444;text-align:center;transform:scaleX(0.92);transform-origin:50% 50%;">99.00</div><div class="t" style="left:201.85px;top:83.09px;width:200.00px;height:9.36px;line-height:9.36px;font-size:7.8px;color:#444;text-align:center;transform:scaleX(0.92);transform-origin:50% 50%;">169.00</div><div class="t" style="left:253.85px;top:83.09px;width:200.00px;height:9.36px;line-height:9.36px;font-size:7.8px;color:#444;text-align:center;transform:scaleX(0.92);transform-origin:50% 50%;">76.00</div><div class="t" style="left:305.85px;top:83.09px;width:200.00px;height:9.36px;line-height:9.36px;font-size:7.8px;color:#444;text-align:center;transform:scaleX(0.92);transform-origin:50% 50%;">245.00</div><div class="t" style="left:-190.70px;top:97.08px;width:200.00px;height:10.32px;line-height:10.32px;font-size:8.6px;color:#444;text-align:right;transform:scaleX(0.95);transform-origin:100% 50%;">Fuel Consumption Efficiency</div><div class="t" style="left:-15.30px;top:97.20px;width:200.00px;height:10.08px;line-height:10.08px;font-size:8.4px;color:#333;text-align:center;transform:scaleX(0.95);transform-origin:50% 50%;">Liters/km</div><div class="t" style="left:45.95px;top:97.56px;width:200.00px;height:9.36px;line-height:9.36px;font-size:7.8px;color:#444;text-align:center;transform:scaleX(0.92);transform-origin:50% 50%;">3.00</div><div class="t" style="left:97.80px;top:97.56px;width:200.00px;height:9.36px;line-height:9.36px;font-size:7.8px;color:#444;text-align:center;transform:scaleX(0.92);transform-origin:50% 50%;">3.00</div><div class="t" style="left:149.85px;top:97.56px;width:200.00px;height:9.36px;line-height:9.36px;font-size:7.8px;color:#444;text-align:center;transform:scaleX(0.92);transform-origin:50% 50%;">2.99</div><div class="t" style="left:201.85px;top:97.56px;width:200.00px;height:9.36px;line-height:9.36px;font-size:7.8px;color:#444;text-align:center;transform:scaleX(0.92);transform-origin:50% 50%;">5.99</div><div class="t" style="left:253.85px;top:97.56px;width:200.00px;height:9.36px;line-height:9.36px;font-size:7.8px;color:#444;text-align:center;transform:scaleX(0.92);transform-origin:50% 50%;">4.00</div><div class="t" style="left:305.85px;top:97.56px;width:200.00px;height:9.36px;line-height:9.36px;font-size:7.8px;color:#444;text-align:center;transform:scaleX(0.92);transform-origin:50% 50%;">9.99</div><div class="t" style="left:-190.70px;top:111.55px;width:200.00px;height:10.32px;line-height:10.32px;font-size:8.6px;color:#444;text-align:right;transform:scaleX(0.95);transform-origin:100% 50%;">Mission Readiness Rate</div><div class="t" style="left:-15.30px;top:111.67px;width:200.00px;height:10.08px;line-height:10.08px;font-size:8.4px;color:#333;text-align:center;transform:scaleX(0.95);transform-origin:50% 50%;">%</div><div class="t" style="left:45.95px;top:112.03px;width:200.00px;height:9.36px;line-height:9.36px;font-size:7.8px;color:#444;text-align:center;transform:scaleX(0.92);transform-origin:50% 50%;">81.00</div><div class="t" style="left:97.80px;top:112.03px;width:200.00px;height:9.36px;line-height:9.36px;font-size:7.8px;color:#444;text-align:center;transform:scaleX(0.92);transform-origin:50% 50%;">81.00</div><div class="t" style="left:149.85px;top:112.03px;width:200.00px;height:9.36px;line-height:9.36px;font-size:7.8px;color:#444;text-align:center;transform:scaleX(0.92);transform-origin:50% 50%;">97.00</div><div class="t" style="left:201.85px;top:112.03px;width:200.00px;height:9.36px;line-height:9.36px;font-size:7.8px;color:#444;text-align:center;transform:scaleX(0.92);transform-origin:50% 50%;">178.00</div><div class="t" style="left:253.85px;top:112.03px;width:200.00px;height:9.36px;line-height:9.36px;font-size:7.8px;color:#444;text-align:center;transform:scaleX(0.92);transform-origin:50% 50%;">77.00</div><div class="t" style="left:305.85px;top:112.03px;width:200.00px;height:9.36px;line-height:9.36px;font-size:7.8px;color:#444;text-align:center;transform:scaleX(0.92);transform-origin:50% 50%;">255.00</div><div class="t" style="left:-190.70px;top:126.03px;width:200.00px;height:10.32px;line-height:10.32px;font-size:8.6px;color:#444;text-align:right;transform:scaleX(0.95);transform-origin:100% 50%;">Equipment Availability</div><div class="t" style="left:-15.30px;top:126.14px;width:200.00px;height:10.08px;line-height:10.08px;font-size:8.4px;color:#333;text-align:center;transform:scaleX(0.95);transform-origin:50% 50%;">%</div><div class="t" style="left:45.95px;top:126.50px;width:200.00px;height:9.36px;line-height:9.36px;font-size:7.8px;color:#444;text-align:center;transform:scaleX(0.92);transform-origin:50% 50%;">73.00</div><div class="t" style="left:97.80px;top:126.50px;width:200.00px;height:9.36px;line-height:9.36px;font-size:7.8px;color:#444;text-align:center;transform:scaleX(0.92);transform-origin:50% 50%;">73.00</div><div class="t" style="left:149.85px;top:126.50px;width:200.00px;height:9.36px;line-height:9.36px;font-size:7.8px;color:#444;text-align:center;transform:scaleX(0.92);transform-origin:50% 50%;">71.00</div><div class="t" style="left:201.85px;top:126.50px;width:200.00px;height:9.36px;line-height:9.36px;font-size:7.8px;color:#444;text-align:center;transform:scaleX(0.92);transform-origin:50% 50%;">144.00</div><div class="t" style="left:253.85px;top:126.50px;width:200.00px;height:9.36px;line-height:9.36px;font-size:7.8px;color:#444;text-align:center;transform:scaleX(0.92);transform-origin:50% 50%;">76.00</div><div class="t" style="left:305.85px;top:126.50px;width:200.00px;height:9.36px;line-height:9.36px;font-size:7.8px;color:#444;text-align:center;transform:scaleX(0.92);transform-origin:50% 50%;">220.00</div><div class="t" style="left:-190.70px;top:140.50px;width:200.00px;height:10.32px;line-height:10.32px;font-size:8.6px;color:#444;text-align:right;transform:scaleX(0.95);transform-origin:100% 50%;">Personnel Retention Rate</div><div class="t" style="left:-15.30px;top:140.62px;width:200.00px;height:10.08px;line-height:10.08px;font-size:8.4px;color:#333;text-align:center;transform:scaleX(0.95);transform-origin:50% 50%;">%</div><div class="t" style="left:45.95px;top:140.98px;width:200.00px;height:9.36px;line-height:9.36px;font-size:7.8px;color:#444;text-align:center;transform:scaleX(0.92);transform-origin:50% 50%;">75.00</div><div class="t" style="left:97.80px;top:140.98px;width:200.00px;height:9.36px;line-height:9.36px;font-size:7.8px;color:#444;text-align:center;transform:scaleX(0.92);transform-origin:50% 50%;">75.00</div><div class="t" style="left:149.85px;top:140.98px;width:200.00px;height:9.36px;line-height:9.36px;font-size:7.8px;color:#444;text-align:center;transform:scaleX(0.92);transform-origin:50% 50%;">82.00</div><div class="t" style="left:201.85px;top:140.98px;width:200.00px;height:9.36px;line-height:9.36px;font-size:7.8px;color:#444;text-align:center;transform:scaleX(0.92);transform-origin:50% 50%;">157.00</div><div class="t" style="left:253.85px;top:140.98px;width:200.00px;height:9.36px;line-height:9.36px;font-size:7.8px;color:#444;text-align:center;transform:scaleX(0.92);transform-origin:50% 50%;">89.00</div><div class="t" style="left:305.85px;top:140.98px;width:200.00px;height:9.36px;line-height:9.36px;font-size:7.8px;color:#444;text-align:center;transform:scaleX(0.92);transform-origin:50% 50%;">246.00</div><div class="t" style="left:-190.70px;top:154.96px;width:200.00px;height:10.32px;line-height:10.32px;font-size:8.6px;color:#444;text-align:right;transform:scaleX(0.95);transform-origin:100% 50%;">Deployment Readiness</div><div class="t" style="left:-15.30px;top:155.08px;width:200.00px;height:10.08px;line-height:10.08px;font-size:8.4px;color:#333;text-align:center;transform:scaleX(0.95);transform-origin:50% 50%;">%</div><div class="t" style="left:45.95px;top:155.44px;width:200.00px;height:9.36px;line-height:9.36px;font-size:7.8px;color:#444;text-align:center;transform:scaleX(0.92);transform-origin:50% 50%;">86.00</div><div class="t" style="left:97.80px;top:155.44px;width:200.00px;height:9.36px;line-height:9.36px;font-size:7.8px;color:#444;text-align:center;transform:scaleX(0.92);transform-origin:50% 50%;">86.00</div><div class="t" style="left:149.85px;top:155.44px;width:200.00px;height:9.36px;line-height:9.36px;font-size:7.8px;color:#444;text-align:center;transform:scaleX(0.92);transform-origin:50% 50%;">94.00</div><div class="t" style="left:201.85px;top:155.44px;width:200.00px;height:9.36px;line-height:9.36px;font-size:7.8px;color:#444;text-align:center;transform:scaleX(0.92);transform-origin:50% 50%;">180.00</div><div class="t" style="left:253.85px;top:155.44px;width:200.00px;height:9.36px;line-height:9.36px;font-size:7.8px;color:#444;text-align:center;transform:scaleX(0.92);transform-origin:50% 50%;">71.00</div><div class="t" style="left:305.85px;top:155.44px;width:200.00px;height:9.36px;line-height:9.36px;font-size:7.8px;color:#444;text-align:center;transform:scaleX(0.92);transform-origin:50% 50%;">251.00</div><div class="t" style="left:-190.70px;top:169.43px;width:200.00px;height:10.32px;line-height:10.32px;font-size:8.6px;color:#444;text-align:right;transform:scaleX(0.95);transform-origin:100% 50%;">Incident Rate</div><div class="t" style="left:-15.30px;top:169.55px;width:200.00px;height:10.08px;line-height:10.08px;font-size:8.4px;color:#333;text-align:center;transform:scaleX(0.95);transform-origin:50% 50%;">Incidents/1000</div><div class="t" style="left:45.95px;top:169.91px;width:200.00px;height:9.36px;line-height:9.36px;font-size:7.8px;color:#444;text-align:center;transform:scaleX(0.92);transform-origin:50% 50%;">3.00</div><div class="t" style="left:97.80px;top:169.91px;width:200.00px;height:9.36px;line-height:9.36px;font-size:7.8px;color:#444;text-align:center;transform:scaleX(0.92);transform-origin:50% 50%;">3.00</div><div class="t" style="left:149.85px;top:169.91px;width:200.00px;height:9.36px;line-height:9.36px;font-size:7.8px;color:#444;text-align:center;transform:scaleX(0.92);transform-origin:50% 50%;">3.00</div><div class="t" style="left:201.85px;top:169.91px;width:200.00px;height:9.36px;line-height:9.36px;font-size:7.8px;color:#444;text-align:center;transform:scaleX(0.92);transform-origin:50% 50%;">6.00</div><div class="t" style="left:253.85px;top:169.91px;width:200.00px;height:9.36px;line-height:9.36px;font-size:7.8px;color:#444;text-align:center;transform:scaleX(0.92);transform-origin:50% 50%;">5.00</div><div class="t" style="left:305.85px;top:169.91px;width:200.00px;height:9.36px;line-height:9.36px;font-size:7.8px;color:#444;text-align:center;transform:scaleX(0.92);transform-origin:50% 50%;">11.00</div><div class="t" style="left:-190.70px;top:183.91px;width:200.00px;height:10.32px;line-height:10.32px;font-size:8.6px;color:#444;text-align:right;transform:scaleX(0.95);transform-origin:100% 50%;">Response Time to Incidents</div><div class="t" style="left:-15.30px;top:184.03px;width:200.00px;height:10.08px;line-height:10.08px;font-size:8.4px;color:#333;text-align:center;transform:scaleX(0.95);transform-origin:50% 50%;">Minutes</div><div class="t" style="left:45.95px;top:184.38px;width:200.00px;height:9.36px;line-height:9.36px;font-size:7.8px;color:#444;text-align:center;transform:scaleX(0.92);transform-origin:50% 50%;">48.00</div><div class="t" style="left:97.80px;top:184.38px;width:200.00px;height:9.36px;line-height:9.36px;font-size:7.8px;color:#444;text-align:center;transform:scaleX(0.92);transform-origin:50% 50%;">48.00</div><div class="t" style="left:149.85px;top:184.38px;width:200.00px;height:9.36px;line-height:9.36px;font-size:7.8px;color:#444;text-align:center;transform:scaleX(0.92);transform-origin:50% 50%;">53.00</div><div class="t" style="left:201.85px;top:184.38px;width:200.00px;height:9.36px;line-height:9.36px;font-size:7.8px;color:#444;text-align:center;transform:scaleX(0.92);transform-origin:50% 50%;">101.00</div><div class="t" style="left:253.85px;top:184.38px;width:200.00px;height:9.36px;line-height:9.36px;font-size:7.8px;color:#444;text-align:center;transform:scaleX(0.92);transform-origin:50% 50%;">56.00</div><div class="t" style="left:305.85px;top:184.38px;width:200.00px;height:9.36px;line-height:9.36px;font-size:7.8px;color:#444;text-align:center;transform:scaleX(0.92);transform-origin:50% 50%;">157.00</div><div class="t" style="left:-190.70px;top:198.37px;width:200.00px;height:10.32px;line-height:10.32px;font-size:8.6px;color:#444;text-align:right;transform:scaleX(0.95);transform-origin:100% 50%;">Training Completion Rate</div><div class="t" style="left:-15.30px;top:198.49px;width:200.00px;height:10.08px;line-height:10.08px;font-size:8.4px;color:#333;text-align:center;transform:scaleX(0.95);transform-origin:50% 50%;">%</div><div class="t" style="left:45.95px;top:198.85px;width:200.00px;height:9.36px;line-height:9.36px;font-size:7.8px;color:#444;text-align:center;transform:scaleX(0.92);transform-origin:50% 50%;">75.00</div><div class="t" style="left:97.80px;top:198.85px;width:200.00px;height:9.36px;line-height:9.36px;font-size:7.8px;color:#444;text-align:center;transform:scaleX(0.92);transform-origin:50% 50%;">75.00</div><div class="t" style="left:149.85px;top:198.85px;width:200.00px;height:9.36px;line-height:9.36px;font-size:7.8px;color:#444;text-align:center;transform:scaleX(0.92);transform-origin:50% 50%;">73.00</div><div class="t" style="left:201.85px;top:198.85px;width:200.00px;height:9.36px;line-height:9.36px;font-size:7.8px;color:#444;text-align:center;transform:scaleX(0.92);transform-origin:50% 50%;">148.00</div><div class="t" style="left:253.85px;top:198.85px;width:200.00px;height:9.36px;line-height:9.36px;font-size:7.8px;color:#444;text-align:center;transform:scaleX(0.92);transform-origin:50% 50%;">81.00</div><div class="t" style="left:305.85px;top:198.85px;width:200.00px;height:9.36px;line-height:9.36px;font-size:7.8px;color:#444;text-align:center;transform:scaleX(0.92);transform-origin:50% 50%;">229.00</div><div class="t" style="left:-190.70px;top:212.84px;width:200.00px;height:10.32px;line-height:10.32px;font-size:8.6px;color:#444;text-align:right;transform:scaleX(0.95);transform-origin:100% 50%;">Avg. Training Hours per Soldier</div><div class="t" style="left:-15.30px;top:212.96px;width:200.00px;height:10.08px;line-height:10.08px;font-size:8.4px;color:#333;text-align:center;transform:scaleX(0.95);transform-origin:50% 50%;">Hours</div><div class="t" style="left:45.95px;top:213.32px;width:200.00px;height:9.36px;line-height:9.36px;font-size:7.8px;color:#444;text-align:center;transform:scaleX(0.92);transform-origin:50% 50%;">59.30</div><div class="t" style="left:97.80px;top:213.32px;width:200.00px;height:9.36px;line-height:9.36px;font-size:7.8px;color:#444;text-align:center;transform:scaleX(0.92);transform-origin:50% 50%;">59.30</div><div class="t" style="left:149.85px;top:213.32px;width:200.00px;height:9.36px;line-height:9.36px;font-size:7.8px;color:#444;text-align:center;transform:scaleX(0.92);transform-origin:50% 50%;">57.80</div><div class="t" style="left:201.85px;top:213.32px;width:200.00px;height:9.36px;line-height:9.36px;font-size:7.8px;color:#444;text-align:center;transform:scaleX(0.92);transform-origin:50% 50%;">117.10</div><div class="t" style="left:253.85px;top:213.32px;width:200.00px;height:9.36px;line-height:9.36px;font-size:7.8px;color:#444;text-align:center;transform:scaleX(0.92);transform-origin:50% 50%;">55.30</div><div class="t" style="left:305.85px;top:213.32px;width:200.00px;height:9.36px;line-height:9.36px;font-size:7.8px;color:#444;text-align:center;transform:scaleX(0.92);transform-origin:50% 50%;">172.40</div></div>
<div style="left:0.00px;top:928.00px;width:552.00px;height:15.50px;background:linear-gradient(#ececec,#e8e8e8 84%,#c8c8c8 84%,#cfcfcf);border-radius:0 0 0 10px;"></div>
<div style="left:240.00px;top:928.00px;width:72.00px;height:7.00px;background:#cdcdcd;border-radius:0 0 7px 7px;"></div>
<div style="left:52.00px;top:629.00px;width:448.00px;height:300.00px;background:#dfe3ea;border-radius:14px 14px 0 0;"></div>
<div style="left:53.00px;top:630.00px;width:446.00px;height:298.50px;background:#000;border-radius:13px 13px 0 0;"></div>
<div class="scr" style="left:66.20px;top:647.50px;width:418.60px;height:260.80px;"><div style="left:0.00px;top:0.00px;width:418.60px;height:30.50px;background:linear-gradient(#45aee3 0%,#2f8fc6 40%,#1b5d8a 100%);"></div><div class="t" id="l1h" style="left:-25.20px;top:4.42px;width:460.00px;height:22.56px;line-height:22.56px;font-size:18.8px;color:#fff;text-align:center;font-weight:700;letter-spacing:0.17px;">Défense &amp; Military KPI Dashboard in Excel</div><div style="left:-6.20px;top:61.10px;width:27.50px;height:2.00px;background:#a4d678;"></div><div style="left:108.60px;top:61.10px;width:19.50px;height:2.00px;background:#a4d678;"></div><div style="left:-6.20px;top:61.10px;width:2.00px;height:150.20px;background:#a4d678;"></div><div style="left:126.10px;top:61.10px;width:2.00px;height:150.20px;background:#a4d678;"></div><div style="left:-6.20px;top:209.30px;width:134.30px;height:2.00px;background:#a4d678;"></div><div style="left:144.40px;top:61.10px;width:21.70px;height:2.00px;background:#ea8045;"></div><div style="left:252.80px;top:61.10px;width:18.20px;height:2.00px;background:#ea8045;"></div><div style="left:144.40px;top:61.10px;width:2.00px;height:149.60px;background:#ea8045;"></div><div style="left:269.00px;top:61.10px;width:2.00px;height:149.60px;background:#ea8045;"></div><div style="left:144.40px;top:208.70px;width:126.60px;height:2.00px;background:#ea8045;"></div><div style="left:282.40px;top:61.10px;width:20.80px;height:2.00px;background:#9c3a9c;"></div><div style="left:390.50px;top:61.10px;width:19.10px;height:2.00px;background:#9c3a9c;"></div><div style="left:282.40px;top:61.10px;width:2.00px;height:191.40px;background:#9c3a9c;"></div><div style="left:407.60px;top:61.10px;width:2.00px;height:191.40px;background:#9c3a9c;"></div><div style="left:282.40px;top:250.50px;width:127.20px;height:2.00px;background:#9c3a9c;"></div><div class="t" style="left:-35.20px;top:54.38px;width:200.00px;height:13.44px;line-height:13.44px;font-size:11.2px;color:#111;text-align:center;font-weight:700;transform:scaleX(0.95);transform-origin:50% 50%;">Dashboard</div><div class="t" style="left:109.10px;top:53.98px;width:200.00px;height:13.44px;line-height:13.44px;font-size:11.2px;color:#111;text-align:center;font-weight:700;transform:scaleX(0.95);transform-origin:50% 50%;">Input sheets</div><div class="t" style="left:246.80px;top:53.98px;width:200.00px;height:13.44px;line-height:13.44px;font-size:11.2px;color:#111;text-align:center;font-weight:700;transform:scaleX(0.95);transform-origin:50% 50%;">KPI</div><svg style="left:14.60px;top:80.80px" width="99" height="27" viewBox="-1 -1 99 27"><rect x="0.5" y="1.2" width="96" height="23" rx="11.5" fill="#000" opacity="0.18"/><rect x="0.5" y="0.5" width="96" height="23" rx="11.5" fill="#4ea72e" stroke="#3d8f22" stroke-width="1"/><path d="M4.79,4.79 A10.2,10.2 0 0 0 2.02,14.12" fill="none" stroke="#fff" stroke-opacity="0.9" stroke-width="1.9" stroke-linecap="round"/><path d="M92.21,19.21 A10.2,10.2 0 0 0 94.98,9.88" fill="none" stroke="#fff" stroke-opacity="0.9" stroke-width="1.9" stroke-linecap="round"/></svg><div class="t" style="left:-35.90px;top:87.02px;width:200.00px;height:14.16px;line-height:14.16px;font-size:11.8px;color:#e6f8d8;text-align:center;transform:scaleX(0.96);transform-origin:50% 50%;">Dashboard</div><svg style="left:14.60px;top:121.00px" width="99" height="27" viewBox="-1 -1 99 27"><rect x="0.5" y="1.2" width="96" height="23" rx="11.5" fill="#000" opacity="0.18"/><rect x="0.5" y="0.5" width="96" height="23" rx="11.5" fill="#4ea72e" stroke="#3d8f22" stroke-width="1"/><path d="M4.79,4.79 A10.2,10.2 0 0 0 2.02,14.12" fill="none" stroke="#fff" stroke-opacity="0.9" stroke-width="1.9" stroke-linecap="round"/><path d="M92.21,19.21 A10.2,10.2 0 0 0 94.98,9.88" fill="none" stroke="#fff" stroke-opacity="0.9" stroke-width="1.9" stroke-linecap="round"/></svg><div class="t" style="left:-35.90px;top:127.22px;width:200.00px;height:14.16px;line-height:14.16px;font-size:11.8px;color:#e6f8d8;text-align:center;transform:scaleX(0.96);transform-origin:50% 50%;">KPI Trend</div><svg style="left:158.70px;top:80.30px" width="99" height="27" viewBox="-1 -1 99 27"><rect x="0.5" y="1.2" width="96" height="23" rx="11.5" fill="#000" opacity="0.18"/><rect x="0.5" y="0.5" width="96" height="23" rx="11.5" fill="#e97132" stroke="#d25f22" stroke-width="1"/><path d="M4.79,4.79 A10.2,10.2 0 0 0 2.02,14.12" fill="none" stroke="#fff" stroke-opacity="0.9" stroke-width="1.9" stroke-linecap="round"/><path d="M92.21,19.21 A10.2,10.2 0 0 0 94.98,9.88" fill="none" stroke="#fff" stroke-opacity="0.9" stroke-width="1.9" stroke-linecap="round"/></svg><div class="t" style="left:108.20px;top:86.52px;width:200.00px;height:14.16px;line-height:14.16px;font-size:11.8px;color:#fef1e8;text-align:center;transform:scaleX(0.96);transform-origin:50% 50%;">Actual</div><svg style="left:158.70px;top:120.30px" width="99" height="27" viewBox="-1 -1 99 27"><rect x="0.5" y="1.2" width="96" height="23" rx="11.5" fill="#000" opacity="0.18"/><rect x="0.5" y="0.5" width="96" height="23" rx="11.5" fill="#e97132" stroke="#d25f22" stroke-width="1"/><path d="M4.79,4.79 A10.2,10.2 0 0 0 2.02,14.12" fill="none" stroke="#fff" stroke-opacity="0.9" stroke-width="1.9" stroke-linecap="round"/><path d="M92.21,19.21 A10.2,10.2 0 0 0 94.98,9.88" fill="none" stroke="#fff" stroke-opacity="0.9" stroke-width="1.9" stroke-linecap="round"/></svg><div class="t" style="left:108.20px;top:126.52px;width:200.00px;height:14.16px;line-height:14.16px;font-size:11.8px;color:#fef1e8;text-align:center;transform:scaleX(0.96);transform-origin:50% 50%;">Target</div><svg style="left:158.70px;top:160.80px" width="99" height="27" viewBox="-1 -1 99 27"><rect x="0.5" y="1.2" width="96" height="23" rx="11.5" fill="#000" opacity="0.18"/><rect x="0.5" y="0.5" width="96" height="23" rx="11.5" fill="#e97132" stroke="#d25f22" stroke-width="1"/><path d="M4.79,4.79 A10.2,10.2 0 0 0 2.02,14.12" fill="none" stroke="#fff" stroke-opacity="0.9" stroke-width="1.9" stroke-linecap="round"/><path d="M92.21,19.21 A10.2,10.2 0 0 0 94.98,9.88" fill="none" stroke="#fff" stroke-opacity="0.9" stroke-width="1.9" stroke-linecap="round"/></svg><div class="t" style="left:108.20px;top:167.02px;width:200.00px;height:14.16px;line-height:14.16px;font-size:11.8px;color:#fef1e8;text-align:center;transform:scaleX(0.96);transform-origin:50% 50%;">Previous Year</div><svg style="left:296.90px;top:80.30px" width="99" height="27" viewBox="-1 -1 99 27"><rect x="0.5" y="1.2" width="96" height="23" rx="11.5" fill="#000" opacity="0.18"/><rect x="0.5" y="0.5" width="96" height="23" rx="11.5" fill="#a02b93" stroke="#86207a" stroke-width="1"/><path d="M4.79,4.79 A10.2,10.2 0 0 0 2.02,14.12" fill="none" stroke="#fff" stroke-opacity="0.9" stroke-width="1.9" stroke-linecap="round"/><path d="M92.21,19.21 A10.2,10.2 0 0 0 94.98,9.88" fill="none" stroke="#fff" stroke-opacity="0.9" stroke-width="1.9" stroke-linecap="round"/></svg><div class="t" style="left:246.40px;top:86.52px;width:200.00px;height:14.16px;line-height:14.16px;font-size:11.8px;color:#f9e6f7;text-align:center;transform:scaleX(0.96);transform-origin:50% 50%;">Definition</div><div style="left:0.00px;top:232.50px;width:418.60px;height:17.30px;background:linear-gradient(#45aee3 0%,#2f8fc6 45%,#1b5d8a 100%);"></div><div class="t" style="left:67.80px;top:234.60px;width:200.00px;height:13.20px;line-height:13.20px;font-size:11px;color:#fff;text-align:right;font-weight:700;">Source:</div><div style="left:0.00px;top:259.30px;width:418.60px;height:1.50px;background:#b8b8b8;"></div></div>
<div style="left:285.00px;top:1060.00px;width:548.00px;height:15.00px;background:linear-gradient(#e9e9e9,#e2e2e2 75%,#c4c4c4);border-radius:0 0 8px 8px;"></div>
<div style="left:521.00px;top:1059.00px;width:73.50px;height:6.50px;background:#cacaca;border-radius:0 0 6px 6px;"></div>
<div style="left:334.80px;top:759.80px;width:446.70px;height:300.00px;background:#dfe3ea;border-radius:14px 14px 0 0;"></div>
<div style="left:335.80px;top:760.80px;width:444.70px;height:298.00px;background:#000;border-radius:13px 13px 0 0;"></div>
<div class="scr" style="left:348.80px;top:778.00px;width:418.00px;height:261.40px;"><div style="left:0.00px;top:0.00px;width:418.00px;height:22.80px;background:linear-gradient(#45aee3 0%,#2f8fc6 40%,#1b5d8a 100%);"></div><div class="t" id="th" style="left:105.70px;top:4.30px;width:200.00px;height:17.40px;line-height:17.40px;font-size:14.5px;color:#fff;text-align:center;font-weight:700;letter-spacing:0.2px;">KPI Trend</div><div style="left:-2.00px;top:33.30px;width:145.00px;height:11.40px;background:#fbe5d6;border:1px solid #f0a57c;"></div><div class="t" style="left:11.70px;top:35.04px;width:200.00px;height:7.92px;line-height:7.92px;font-size:6.6px;color:#111;text-align:left;font-weight:700;transform:scaleX(0.95);transform-origin:0 50%;">Budget Utilization</div><div style="left:-2.00px;top:55.00px;width:145.00px;height:32.30px;background:#fff;border:1px solid #c3dfa8;"></div><div style="left:153.20px;top:33.30px;width:180.70px;height:11.40px;background:#fff;border:1px solid #a9d57f;"></div><div style="left:153.20px;top:33.30px;width:41.80px;height:11.40px;background:#8fd14f;"></div><div class="t" style="left:74.20px;top:35.04px;width:200.00px;height:7.92px;line-height:7.92px;font-size:6.6px;color:#eaf7dc;text-align:center;font-weight:700;transform:scaleX(0.95);transform-origin:50% 50%;">KPI Group</div><div class="t" style="left:164.70px;top:35.04px;width:200.00px;height:7.92px;line-height:7.92px;font-size:6.6px;color:#111;text-align:center;font-weight:700;transform:scaleX(0.95);transform-origin:50% 50%;">Finance</div><div style="left:345.70px;top:33.30px;width:100.00px;height:11.40px;background:#fff;border:1px solid #a9d57f;"></div><div style="left:345.70px;top:33.30px;width:36.00px;height:11.40px;background:#8fd14f;"></div><div class="t" style="left:263.70px;top:35.04px;width:200.00px;height:7.92px;line-height:7.92px;font-size:6.6px;color:#eaf7dc;text-align:center;font-weight:700;transform:scaleX(0.95);transform-origin:50% 50%;">Unit</div><div class="t" style="left:315.70px;top:35.04px;width:200.00px;height:7.92px;line-height:7.92px;font-size:6.6px;color:#111;text-align:center;font-weight:700;transform:scaleX(0.95);transform-origin:50% 50%;">%</div><div style="left:153.20px;top:55.00px;width:300.00px;height:32.30px;background:#fff;border:1px solid #a9d57f;"></div><div style="left:153.20px;top:55.00px;width:41.80px;height:32.30px;background:#8fd14f;"></div><div class="t" style="left:74.20px;top:66.74px;width:200.00px;height:7.92px;line-height:7.92px;font-size:6.6px;color:#eaf7dc;text-align:center;font-weight:700;transform:scaleX(0.95);transform-origin:50% 50%;">Definition</div><div class="t" style="left:196.70px;top:66.74px;width:200.00px;height:7.92px;line-height:7.92px;font-size:6.6px;color:#111;text-align:left;font-weight:700;transform:scaleX(0.95);transform-origin:0 50%;">% budget utilized</div><div style="left:0.00px;top:91.80px;width:418.00px;height:1.00px;background:#b9dd9c;"></div><div style="left:0.00px;top:250.60px;width:418.00px;height:1.00px;background:#b9dd9c;"></div><div class="t" style="left:109.70px;top:99.10px;width:200.00px;height:9.00px;line-height:9.00px;font-size:7.5px;color:#111;text-align:center;font-weight:700;transform:scaleX(0.95);transform-origin:50% 50%;">MTD Trend For Budget Utilization</div><svg style="left:0;top:0" width="418.0" height="261.4" viewBox="348.8 778 418.0 261.4" font-family="Liberation Sans, sans-serif"><line x1="348.8" x2="766.8" y1="995.80" y2="995.80" stroke="#e3eadf" stroke-width="0.8"/><line x1="348.8" x2="766.8" y1="978.88" y2="978.88" stroke="#e3eadf" stroke-width="0.8"/><line x1="348.8" x2="766.8" y1="961.96" y2="961.96" stroke="#e3eadf" stroke-width="0.8"/><line x1="348.8" x2="766.8" y1="945.04" y2="945.04" stroke="#e3eadf" stroke-width="0.8"/><line x1="348.8" x2="766.8" y1="928.12" y2="928.12" stroke="#e3eadf" stroke-width="0.8"/><line x1="348.8" x2="766.8" y1="911.20" y2="911.20" stroke="#e3eadf" stroke-width="0.8"/><line x1="348.8" x2="766.8" y1="894.28" y2="894.28" stroke="#e3eadf" stroke-width="0.8"/><line x1="311.33" x2="311.33" y1="893.5" y2="998.80" stroke="#e3eadf" stroke-width="0.8"/><line x1="362.60" x2="362.60" y1="893.5" y2="998.80" stroke="#e3eadf" stroke-width="0.8"/><line x1="413.87" x2="413.87" y1="893.5" y2="998.80" stroke="#e3eadf" stroke-width="0.8"/><line x1="465.14" x2="465.14" y1="893.5" y2="998.80" stroke="#e3eadf" stroke-width="0.8"/><line x1="516.41" x2="516.41" y1="893.5" y2="998.80" stroke="#e3eadf" stroke-width="0.8"/><line x1="567.68" x2="567.68" y1="893.5" y2="998.80" stroke="#e3eadf" stroke-width="0.8"/><line x1="618.95" x2="618.95" y1="893.5" y2="998.80" stroke="#e3eadf" stroke-width="0.8"/><line x1="670.22" x2="670.22" y1="893.5" y2="998.80" stroke="#e3eadf" stroke-width="0.8"/><line x1="721.49" x2="721.49" y1="893.5" y2="998.80" stroke="#e3eadf" stroke-width="0.8"/><line x1="772.76" x2="772.76" y1="893.5" y2="998.80" stroke="#e3eadf" stroke-width="0.8"/><rect x="375.20" y="917.14" width="12.4" height="78.66" fill="#86cf47"/><rect x="387.60" y="918.74" width="12.4" height="77.06" fill="#e0f0d5"/><rect x="426.47" y="918.83" width="12.4" height="76.97" fill="#86cf47"/><rect x="438.87" y="929.57" width="12.4" height="66.23" fill="#e0f0d5"/><rect x="477.74" y="925.17" width="12.4" height="70.63" fill="#86cf47"/><rect x="490.14" y="936.08" width="12.4" height="59.72" fill="#e0f0d5"/><rect x="529.01" y="922.21" width="12.4" height="73.59" fill="#86cf47"/><rect x="541.41" y="939.13" width="12.4" height="56.67" fill="#e0f0d5"/><rect x="580.28" y="931.52" width="12.4" height="64.28" fill="#86cf47"/><rect x="592.68" y="921.28" width="12.4" height="74.52" fill="#e0f0d5"/><rect x="631.55" y="927.29" width="12.4" height="68.51" fill="#86cf47"/><rect x="643.95" y="932.79" width="12.4" height="63.01" fill="#e0f0d5"/><rect x="682.82" y="932.36" width="12.4" height="63.44" fill="#86cf47"/><rect x="695.22" y="946.91" width="12.4" height="48.89" fill="#e0f0d5"/><rect x="734.09" y="911.22" width="12.4" height="84.58" fill="#86cf47"/><rect x="746.49" y="919.67" width="12.4" height="76.12" fill="#e0f0d5"/><rect x="785.36" y="914.60" width="12.4" height="81.20" fill="#86cf47"/><rect x="797.76" y="923.90" width="12.4" height="71.90" fill="#e0f0d5"/><path d="M336.33,936.59 C344.88,933.87 370.51,924.00 387.60,920.27 C404.69,916.53 421.78,915.01 438.87,914.18 C455.96,913.35 473.05,913.09 490.14,915.28 C507.23,917.46 524.32,925.19 541.41,927.29 C558.50,929.39 575.59,928.68 592.68,927.88 C609.77,927.08 626.86,920.45 643.95,922.47 C661.04,924.48 678.13,940.86 695.22,939.97 C712.31,939.09 729.40,921.23 746.49,917.14 C763.58,913.05 780.67,915.73 797.76,915.45 C814.85,915.16 840.49,915.45 849.03,915.45" fill="none" stroke="#55a532" stroke-width="1.1"/><circle cx="387.60" cy="920.27" r="2.2" fill="#fff" stroke="#55a532" stroke-width="0.9"/><circle cx="438.87" cy="914.18" r="2.2" fill="#fff" stroke="#55a532" stroke-width="0.9"/><circle cx="490.14" cy="915.28" r="2.2" fill="#fff" stroke="#55a532" stroke-width="0.9"/><circle cx="541.41" cy="927.29" r="2.2" fill="#fff" stroke="#55a532" stroke-width="0.9"/><circle cx="592.68" cy="927.88" r="2.2" fill="#fff" stroke="#55a532" stroke-width="0.9"/><circle cx="643.95" cy="922.47" r="2.2" fill="#fff" stroke="#55a532" stroke-width="0.9"/><circle cx="695.22" cy="939.97" r="2.2" fill="#fff" stroke="#55a532" stroke-width="0.9"/><circle cx="746.49" cy="917.14" r="2.2" fill="#fff" stroke="#55a532" stroke-width="0.9"/><circle cx="797.76" cy="915.45" r="2.2" fill="#fff" stroke="#55a532" stroke-width="0.9"/><text x="381.10" y="913.14" font-size="5.4" font-weight="700" text-anchor="middle" fill="#111">93.0</text><text x="394.00" y="927.94" font-size="5.4" font-weight="700" text-anchor="middle" fill="#111">91.1</text><text x="387.90" y="912.97" font-size="5.4" font-weight="700" text-anchor="middle" fill="#111">89.3</text><text x="387.60" y="1006.50" font-size="5.6" font-weight="700" text-anchor="middle" fill="#111">Mar-24</text><text x="432.37" y="914.83" font-size="5.4" font-weight="700" text-anchor="middle" fill="#111">91.0</text><text x="445.27" y="938.77" font-size="5.4" font-weight="700" text-anchor="middle" fill="#111">78.3</text><text x="439.17" y="906.88" font-size="5.4" font-weight="700" text-anchor="middle" fill="#111">96.5</text><text x="438.87" y="1006.50" font-size="5.6" font-weight="700" text-anchor="middle" fill="#111">Apr-24</text><text x="483.64" y="921.17" font-size="5.4" font-weight="700" text-anchor="middle" fill="#111">83.5</text><text x="496.54" y="945.28" font-size="5.4" font-weight="700" text-anchor="middle" fill="#111">70.6</text><text x="490.44" y="907.98" font-size="5.4" font-weight="700" text-anchor="middle" fill="#111">95.2</text><text x="490.14" y="1006.50" font-size="5.6" font-weight="700" text-anchor="middle" fill="#111">May-24</text><text x="534.91" y="918.21" font-size="5.4" font-weight="700" text-anchor="middle" fill="#111">87.0</text><text x="547.81" y="948.33" font-size="5.4" font-weight="700" text-anchor="middle" fill="#111">67.0</text><text x="541.71" y="919.99" font-size="5.4" font-weight="700" text-anchor="middle" fill="#111">81.0</text><text x="541.41" y="1006.50" font-size="5.6" font-weight="700" text-anchor="middle" fill="#111">Jun-24</text><text x="586.18" y="927.52" font-size="5.4" font-weight="700" text-anchor="middle" fill="#111">76.0</text><text x="599.08" y="930.48" font-size="5.4" font-weight="700" text-anchor="middle" fill="#111">88.1</text><text x="592.98" y="920.58" font-size="5.4" font-weight="700" text-anchor="middle" fill="#111">80.3</text><text x="592.68" y="1006.50" font-size="5.6" font-weight="700" text-anchor="middle" fill="#111">Jul-24</text><text x="637.45" y="923.29" font-size="5.4" font-weight="700" text-anchor="middle" fill="#111">81.0</text><text x="650.35" y="941.99" font-size="5.4" font-weight="700" text-anchor="middle" fill="#111">74.5</text><text x="644.25" y="915.17" font-size="5.4" font-weight="700" text-anchor="middle" fill="#111">86.7</text><text x="643.95" y="1006.50" font-size="5.6" font-weight="700" text-anchor="middle" fill="#111">Aug-24</text><text x="688.72" y="928.36" font-size="5.4" font-weight="700" text-anchor="middle" fill="#111">75.0</text><text x="701.62" y="956.11" font-size="5.4" font-weight="700" text-anchor="middle" fill="#111">57.8</text><text x="695.52" y="932.67" font-size="5.4" font-weight="700" text-anchor="middle" fill="#111">66.0</text><text x="695.22" y="1006.50" font-size="5.6" font-weight="700" text-anchor="middle" fill="#111">Sep-24</text><text x="739.99" y="907.22" font-size="5.4" font-weight="700" text-anchor="middle" fill="#111">100.0</text><text x="752.89" y="928.88" font-size="5.4" font-weight="700" text-anchor="middle" fill="#111">90.0</text><text x="746.79" y="909.84" font-size="5.4" font-weight="700" text-anchor="middle" fill="#111">93.0</text><text x="746.49" y="1006.50" font-size="5.6" font-weight="700" text-anchor="middle" fill="#111">Oct-24</text><text x="791.26" y="910.60" font-size="5.4" font-weight="700" text-anchor="middle" fill="#111">96.0</text><text x="804.16" y="933.10" font-size="5.4" font-weight="700" text-anchor="middle" fill="#111">85.0</text><text x="798.06" y="908.15" font-size="5.4" font-weight="700" text-anchor="middle" fill="#111">95.0</text><text x="797.76" y="1006.50" font-size="5.6" font-weight="700" text-anchor="middle" fill="#111">Nov-24</text><rect x="509.5" y="1017" width="14" height="3.6" fill="#86cf47"/><text x="525.00" y="1020.80" font-size="5.6" font-weight="700" text-anchor="start" fill="#111">Actual</text><rect x="549.5" y="1017" width="14" height="3.6" fill="#e0f0d5"/><text x="566.00" y="1020.80" font-size="5.6" font-weight="700" text-anchor="start" fill="#111">PY</text><line x1="577" x2="592" y1="1018.8" y2="1018.8" stroke="#55a532" stroke-width="1"/><circle cx="584.5" cy="1018.8" r="1.9" fill="#fff" stroke="#55a532" stroke-width="0.8"/><text x="593.50" y="1020.80" font-size="5.6" font-weight="700" text-anchor="start" fill="#111">Target</text></svg></div>
<div style="left:0.00px;top:1074.80px;width:1080.00px;height:5.20px;background:linear-gradient(90deg,#8e8e8e,#b0b0b0 50%,#a9a9a9);"></div>
</body></html>
